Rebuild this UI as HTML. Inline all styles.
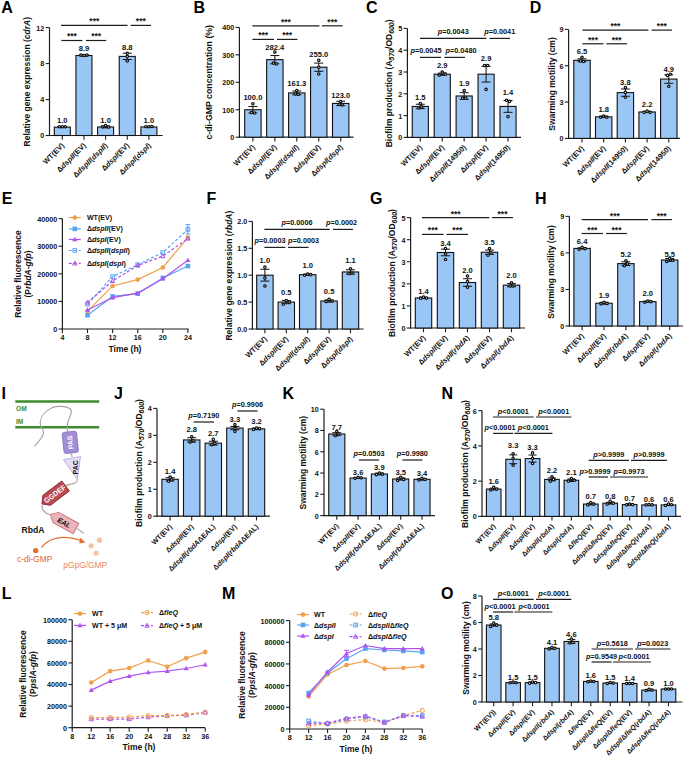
<!DOCTYPE html>
<html><head><meta charset="utf-8"><style>
html,body{margin:0;padding:0;background:#fff;}
svg{display:block;font-family:"Liberation Sans", sans-serif;}
</style></head><body>
<svg width="685" height="757" viewBox="0 0 685 757">
<rect width="685" height="757" fill="#fff"/>
<line x1="49.50" y1="27.62" x2="49.50" y2="136.10" stroke="#1e1e1e" stroke-width="1.20" />
<line x1="48.90" y1="135.50" x2="162.60" y2="135.50" stroke="#1e1e1e" stroke-width="1.20" />
<line x1="45.70" y1="135.50" x2="49.50" y2="135.50" stroke="#1e1e1e" stroke-width="1.10" />
<text x="44.30" y="138.40" font-size="7.20" text-anchor="end" font-weight="bold" fill="#111" >0</text>
<line x1="45.70" y1="99.54" x2="49.50" y2="99.54" stroke="#1e1e1e" stroke-width="1.10" />
<text x="44.30" y="102.44" font-size="7.20" text-anchor="end" font-weight="bold" fill="#111" >4</text>
<line x1="45.70" y1="63.58" x2="49.50" y2="63.58" stroke="#1e1e1e" stroke-width="1.10" />
<text x="44.30" y="66.48" font-size="7.20" text-anchor="end" font-weight="bold" fill="#111" >8</text>
<line x1="45.70" y1="27.62" x2="49.50" y2="27.62" stroke="#1e1e1e" stroke-width="1.10" />
<text x="44.30" y="30.52" font-size="7.20" text-anchor="end" font-weight="bold" fill="#111" >12</text>
<rect x="54.30" y="127.14" width="16.00" height="8.36" fill="#9ac6f6" stroke="#111" stroke-width="1.1"/>
<line x1="62.30" y1="135.50" x2="62.30" y2="139.70" stroke="#1e1e1e" stroke-width="1.10" />
<line x1="62.30" y1="126.69" x2="62.30" y2="127.59" stroke="#111" stroke-width="1.00" />
<line x1="57.80" y1="126.69" x2="66.80" y2="126.69" stroke="#111" stroke-width="1.00" />
<line x1="57.80" y1="127.59" x2="66.80" y2="127.59" stroke="#111" stroke-width="1.00" />
<circle cx="59.30" cy="126.78" r="1.2" fill="#fff" stroke="#111" stroke-width="1.25"/>
<circle cx="62.30" cy="126.78" r="1.2" fill="#fff" stroke="#111" stroke-width="1.25"/>
<circle cx="65.30" cy="126.78" r="1.2" fill="#fff" stroke="#111" stroke-width="1.25"/>
<text x="62.30" y="123.10" font-size="7.60" text-anchor="middle" font-weight="bold" fill="#111" >1.0</text>
<text transform="translate(64.80 146.00) rotate(-45)" x="0" y="0" font-size="7.50" text-anchor="end" font-weight="bold" fill="#111">WT(EV)</text>
<rect x="75.95" y="55.49" width="16.00" height="80.01" fill="#9ac6f6" stroke="#111" stroke-width="1.1"/>
<line x1="83.95" y1="135.50" x2="83.95" y2="139.70" stroke="#1e1e1e" stroke-width="1.10" />
<line x1="83.95" y1="54.77" x2="83.95" y2="56.21" stroke="#111" stroke-width="1.00" />
<line x1="79.45" y1="54.77" x2="88.45" y2="54.77" stroke="#111" stroke-width="1.00" />
<line x1="79.45" y1="56.21" x2="88.45" y2="56.21" stroke="#111" stroke-width="1.00" />
<circle cx="80.95" cy="55.04" r="1.2" fill="#fff" stroke="#111" stroke-width="1.25"/>
<circle cx="83.95" cy="55.49" r="1.2" fill="#fff" stroke="#111" stroke-width="1.25"/>
<circle cx="86.95" cy="55.04" r="1.2" fill="#fff" stroke="#111" stroke-width="1.25"/>
<text x="83.95" y="51.30" font-size="7.60" text-anchor="middle" font-weight="bold" fill="#111" >8.9</text>
<text transform="translate(86.45 146.00) rotate(-45)" x="0" y="0" font-size="7.50" text-anchor="end" font-weight="bold" fill="#111">Δ<tspan font-style="italic">dspII</tspan>(EV)</text>
<rect x="97.60" y="126.96" width="16.00" height="8.54" fill="#9ac6f6" stroke="#111" stroke-width="1.1"/>
<line x1="105.60" y1="135.50" x2="105.60" y2="139.70" stroke="#1e1e1e" stroke-width="1.10" />
<line x1="105.60" y1="126.06" x2="105.60" y2="127.86" stroke="#111" stroke-width="1.00" />
<line x1="101.10" y1="126.06" x2="110.10" y2="126.06" stroke="#111" stroke-width="1.00" />
<line x1="101.10" y1="127.86" x2="110.10" y2="127.86" stroke="#111" stroke-width="1.00" />
<circle cx="102.60" cy="126.78" r="1.2" fill="#fff" stroke="#111" stroke-width="1.25"/>
<circle cx="105.60" cy="125.61" r="1.2" fill="#fff" stroke="#111" stroke-width="1.25"/>
<circle cx="108.60" cy="126.96" r="1.2" fill="#fff" stroke="#111" stroke-width="1.25"/>
<text x="105.60" y="123.10" font-size="7.60" text-anchor="middle" font-weight="bold" fill="#111" >1.0</text>
<text transform="translate(108.10 146.00) rotate(-45)" x="0" y="0" font-size="7.50" text-anchor="end" font-weight="bold" fill="#111">Δ<tspan font-style="italic">dspII</tspan>(<tspan font-style="italic">dspII</tspan>)</text>
<rect x="119.25" y="56.39" width="16.00" height="79.11" fill="#9ac6f6" stroke="#111" stroke-width="1.1"/>
<line x1="127.25" y1="135.50" x2="127.25" y2="139.70" stroke="#1e1e1e" stroke-width="1.10" />
<line x1="127.25" y1="53.24" x2="127.25" y2="59.53" stroke="#111" stroke-width="1.00" />
<line x1="122.75" y1="53.24" x2="131.75" y2="53.24" stroke="#111" stroke-width="1.00" />
<line x1="122.75" y1="59.53" x2="131.75" y2="59.53" stroke="#111" stroke-width="1.00" />
<circle cx="127.25" cy="53.24" r="1.2" fill="#fff" stroke="#111" stroke-width="1.25"/>
<circle cx="127.25" cy="56.39" r="1.2" fill="#fff" stroke="#111" stroke-width="1.25"/>
<circle cx="127.25" cy="60.88" r="1.2" fill="#fff" stroke="#111" stroke-width="1.25"/>
<text x="127.25" y="50.30" font-size="7.60" text-anchor="middle" font-weight="bold" fill="#111" >8.8</text>
<text transform="translate(129.75 146.00) rotate(-45)" x="0" y="0" font-size="7.50" text-anchor="end" font-weight="bold" fill="#111">Δ<tspan font-style="italic">dspI</tspan>(EV)</text>
<rect x="140.90" y="126.96" width="16.00" height="8.54" fill="#9ac6f6" stroke="#111" stroke-width="1.1"/>
<line x1="148.90" y1="135.50" x2="148.90" y2="139.70" stroke="#1e1e1e" stroke-width="1.10" />
<line x1="148.90" y1="126.51" x2="148.90" y2="127.41" stroke="#111" stroke-width="1.00" />
<line x1="144.40" y1="126.51" x2="153.40" y2="126.51" stroke="#111" stroke-width="1.00" />
<line x1="144.40" y1="127.41" x2="153.40" y2="127.41" stroke="#111" stroke-width="1.00" />
<circle cx="145.90" cy="126.78" r="1.2" fill="#fff" stroke="#111" stroke-width="1.25"/>
<circle cx="148.90" cy="126.78" r="1.2" fill="#fff" stroke="#111" stroke-width="1.25"/>
<circle cx="151.90" cy="126.51" r="1.2" fill="#fff" stroke="#111" stroke-width="1.25"/>
<text x="148.90" y="123.10" font-size="7.60" text-anchor="middle" font-weight="bold" fill="#111" >1.0</text>
<text transform="translate(151.40 146.00) rotate(-45)" x="0" y="0" font-size="7.50" text-anchor="end" font-weight="bold" fill="#111">Δ<tspan font-style="italic">dspI</tspan>(<tspan font-style="italic">dspI</tspan>)</text>
<line x1="61.00" y1="25.40" x2="127.60" y2="25.40" stroke="#1e1e1e" stroke-width="1.20" />
<text x="94.30" y="23.80" font-size="8.50" text-anchor="middle" font-weight="bold" fill="#111" >***</text>
<line x1="130.60" y1="25.40" x2="151.00" y2="25.40" stroke="#1e1e1e" stroke-width="1.20" />
<text x="140.80" y="23.80" font-size="8.50" text-anchor="middle" font-weight="bold" fill="#111" >***</text>
<line x1="61.40" y1="40.50" x2="82.40" y2="40.50" stroke="#1e1e1e" stroke-width="1.20" />
<text x="71.90" y="38.90" font-size="8.50" text-anchor="middle" font-weight="bold" fill="#111" >***</text>
<line x1="86.00" y1="40.50" x2="106.20" y2="40.50" stroke="#1e1e1e" stroke-width="1.20" />
<text x="96.10" y="38.90" font-size="8.50" text-anchor="middle" font-weight="bold" fill="#111" >***</text>
<text transform="translate(27.20 81.70) rotate(-90)" x="0" y="0" font-size="8.50" text-anchor="middle" font-weight="bold" fill="#111" dominant-baseline="central">Relative gene expression (<tspan font-style="italic">cdrA</tspan>)</text>
<line x1="239.40" y1="27.40" x2="239.40" y2="137.80" stroke="#1e1e1e" stroke-width="1.20" />
<line x1="238.80" y1="137.20" x2="353.60" y2="137.20" stroke="#1e1e1e" stroke-width="1.20" />
<line x1="235.60" y1="137.20" x2="239.40" y2="137.20" stroke="#1e1e1e" stroke-width="1.10" />
<text x="234.20" y="140.10" font-size="7.20" text-anchor="end" font-weight="bold" fill="#111" >0</text>
<line x1="235.60" y1="109.75" x2="239.40" y2="109.75" stroke="#1e1e1e" stroke-width="1.10" />
<text x="234.20" y="112.65" font-size="7.20" text-anchor="end" font-weight="bold" fill="#111" >100</text>
<line x1="235.60" y1="82.30" x2="239.40" y2="82.30" stroke="#1e1e1e" stroke-width="1.10" />
<text x="234.20" y="85.20" font-size="7.20" text-anchor="end" font-weight="bold" fill="#111" >200</text>
<line x1="235.60" y1="54.85" x2="239.40" y2="54.85" stroke="#1e1e1e" stroke-width="1.10" />
<text x="234.20" y="57.75" font-size="7.20" text-anchor="end" font-weight="bold" fill="#111" >300</text>
<line x1="235.60" y1="27.40" x2="239.40" y2="27.40" stroke="#1e1e1e" stroke-width="1.10" />
<text x="234.20" y="30.30" font-size="7.20" text-anchor="end" font-weight="bold" fill="#111" >400</text>
<rect x="244.70" y="109.75" width="16.40" height="27.45" fill="#9ac6f6" stroke="#111" stroke-width="1.1"/>
<line x1="252.90" y1="137.20" x2="252.90" y2="141.40" stroke="#1e1e1e" stroke-width="1.10" />
<line x1="252.90" y1="106.46" x2="252.90" y2="113.04" stroke="#111" stroke-width="1.00" />
<line x1="248.40" y1="106.46" x2="257.40" y2="106.46" stroke="#111" stroke-width="1.00" />
<line x1="248.40" y1="113.04" x2="257.40" y2="113.04" stroke="#111" stroke-width="1.00" />
<circle cx="251.40" cy="112.49" r="1.2" fill="#fff" stroke="#111" stroke-width="1.25"/>
<circle cx="252.90" cy="103.71" r="1.2" fill="#fff" stroke="#111" stroke-width="1.25"/>
<circle cx="254.40" cy="113.04" r="1.2" fill="#fff" stroke="#111" stroke-width="1.25"/>
<text x="252.90" y="100.10" font-size="7.60" text-anchor="middle" font-weight="bold" fill="#111" >100.0</text>
<text transform="translate(255.40 147.70) rotate(-45)" x="0" y="0" font-size="7.50" text-anchor="end" font-weight="bold" fill="#111">WT(EV)</text>
<rect x="266.65" y="59.68" width="16.40" height="77.52" fill="#9ac6f6" stroke="#111" stroke-width="1.1"/>
<line x1="274.85" y1="137.20" x2="274.85" y2="141.40" stroke="#1e1e1e" stroke-width="1.10" />
<line x1="274.85" y1="55.56" x2="274.85" y2="63.80" stroke="#111" stroke-width="1.00" />
<line x1="270.35" y1="55.56" x2="279.35" y2="55.56" stroke="#111" stroke-width="1.00" />
<line x1="270.35" y1="63.80" x2="279.35" y2="63.80" stroke="#111" stroke-width="1.00" />
<circle cx="273.35" cy="63.08" r="1.2" fill="#fff" stroke="#111" stroke-width="1.25"/>
<circle cx="274.85" cy="52.10" r="1.2" fill="#fff" stroke="#111" stroke-width="1.25"/>
<circle cx="276.35" cy="63.91" r="1.2" fill="#fff" stroke="#111" stroke-width="1.25"/>
<text x="274.85" y="49.70" font-size="7.60" text-anchor="middle" font-weight="bold" fill="#111" >282.4</text>
<text transform="translate(277.35 147.70) rotate(-45)" x="0" y="0" font-size="7.50" text-anchor="end" font-weight="bold" fill="#111">Δ<tspan font-style="italic">dspII</tspan>(EV)</text>
<rect x="288.60" y="92.92" width="16.40" height="44.28" fill="#9ac6f6" stroke="#111" stroke-width="1.1"/>
<line x1="296.80" y1="137.20" x2="296.80" y2="141.40" stroke="#1e1e1e" stroke-width="1.10" />
<line x1="296.80" y1="91.00" x2="296.80" y2="94.84" stroke="#111" stroke-width="1.00" />
<line x1="292.30" y1="91.00" x2="301.30" y2="91.00" stroke="#111" stroke-width="1.00" />
<line x1="292.30" y1="94.84" x2="301.30" y2="94.84" stroke="#111" stroke-width="1.00" />
<circle cx="295.30" cy="93.83" r="1.2" fill="#fff" stroke="#111" stroke-width="1.25"/>
<circle cx="296.80" cy="90.53" r="1.2" fill="#fff" stroke="#111" stroke-width="1.25"/>
<circle cx="298.30" cy="94.38" r="1.2" fill="#fff" stroke="#111" stroke-width="1.25"/>
<text x="296.80" y="85.70" font-size="7.60" text-anchor="middle" font-weight="bold" fill="#111" >161.3</text>
<text transform="translate(299.30 147.70) rotate(-45)" x="0" y="0" font-size="7.50" text-anchor="end" font-weight="bold" fill="#111">Δ<tspan font-style="italic">dspII</tspan>(<tspan font-style="italic">dspII</tspan>)</text>
<rect x="310.55" y="67.20" width="16.40" height="70.00" fill="#9ac6f6" stroke="#111" stroke-width="1.1"/>
<line x1="318.75" y1="137.20" x2="318.75" y2="141.40" stroke="#1e1e1e" stroke-width="1.10" />
<line x1="318.75" y1="63.08" x2="318.75" y2="71.32" stroke="#111" stroke-width="1.00" />
<line x1="314.25" y1="63.08" x2="323.25" y2="63.08" stroke="#111" stroke-width="1.00" />
<line x1="314.25" y1="71.32" x2="323.25" y2="71.32" stroke="#111" stroke-width="1.00" />
<circle cx="318.75" cy="67.20" r="1.2" fill="#fff" stroke="#111" stroke-width="1.25"/>
<circle cx="318.75" cy="60.34" r="1.2" fill="#fff" stroke="#111" stroke-width="1.25"/>
<circle cx="318.75" cy="74.06" r="1.2" fill="#fff" stroke="#111" stroke-width="1.25"/>
<text x="318.75" y="56.70" font-size="7.60" text-anchor="middle" font-weight="bold" fill="#111" >255.0</text>
<text transform="translate(321.25 147.70) rotate(-45)" x="0" y="0" font-size="7.50" text-anchor="end" font-weight="bold" fill="#111">Δ<tspan font-style="italic">dspI</tspan>(EV)</text>
<rect x="332.50" y="103.44" width="16.40" height="33.76" fill="#9ac6f6" stroke="#111" stroke-width="1.1"/>
<line x1="340.70" y1="137.20" x2="340.70" y2="141.40" stroke="#1e1e1e" stroke-width="1.10" />
<line x1="340.70" y1="101.24" x2="340.70" y2="105.63" stroke="#111" stroke-width="1.00" />
<line x1="336.20" y1="101.24" x2="345.20" y2="101.24" stroke="#111" stroke-width="1.00" />
<line x1="336.20" y1="105.63" x2="345.20" y2="105.63" stroke="#111" stroke-width="1.00" />
<circle cx="339.20" cy="104.26" r="1.2" fill="#fff" stroke="#111" stroke-width="1.25"/>
<circle cx="340.70" cy="101.51" r="1.2" fill="#fff" stroke="#111" stroke-width="1.25"/>
<circle cx="342.20" cy="104.81" r="1.2" fill="#fff" stroke="#111" stroke-width="1.25"/>
<text x="340.70" y="97.70" font-size="7.60" text-anchor="middle" font-weight="bold" fill="#111" >123.0</text>
<text transform="translate(343.20 147.70) rotate(-45)" x="0" y="0" font-size="7.50" text-anchor="end" font-weight="bold" fill="#111">Δ<tspan font-style="italic">dspI</tspan>(<tspan font-style="italic">dspI</tspan>)</text>
<line x1="252.40" y1="25.80" x2="319.40" y2="25.80" stroke="#1e1e1e" stroke-width="1.20" />
<text x="285.90" y="24.80" font-size="8.50" text-anchor="middle" font-weight="bold" fill="#111" >***</text>
<line x1="322.00" y1="25.80" x2="342.60" y2="25.80" stroke="#1e1e1e" stroke-width="1.20" />
<text x="332.30" y="24.80" font-size="8.50" text-anchor="middle" font-weight="bold" fill="#111" >***</text>
<line x1="252.40" y1="39.40" x2="274.00" y2="39.40" stroke="#1e1e1e" stroke-width="1.20" />
<text x="263.20" y="38.40" font-size="8.50" text-anchor="middle" font-weight="bold" fill="#111" >***</text>
<line x1="277.00" y1="39.40" x2="297.40" y2="39.40" stroke="#1e1e1e" stroke-width="1.20" />
<text x="287.20" y="38.40" font-size="8.50" text-anchor="middle" font-weight="bold" fill="#111" >***</text>
<text transform="translate(209.40 82.30) rotate(-90)" x="0" y="0" font-size="8.50" text-anchor="middle" font-weight="bold" fill="#111" dominant-baseline="central"><tspan font-size="8.75">c-di-GMP concentration (%)</tspan></text>
<line x1="407.40" y1="28.40" x2="407.40" y2="138.00" stroke="#1e1e1e" stroke-width="1.20" />
<line x1="406.80" y1="137.40" x2="521.00" y2="137.40" stroke="#1e1e1e" stroke-width="1.20" />
<line x1="403.60" y1="137.40" x2="407.40" y2="137.40" stroke="#1e1e1e" stroke-width="1.10" />
<text x="402.20" y="140.30" font-size="7.20" text-anchor="end" font-weight="bold" fill="#111" >0</text>
<line x1="403.60" y1="115.60" x2="407.40" y2="115.60" stroke="#1e1e1e" stroke-width="1.10" />
<text x="402.20" y="118.50" font-size="7.20" text-anchor="end" font-weight="bold" fill="#111" >1</text>
<line x1="403.60" y1="93.80" x2="407.40" y2="93.80" stroke="#1e1e1e" stroke-width="1.10" />
<text x="402.20" y="96.70" font-size="7.20" text-anchor="end" font-weight="bold" fill="#111" >2</text>
<line x1="403.60" y1="72.00" x2="407.40" y2="72.00" stroke="#1e1e1e" stroke-width="1.10" />
<text x="402.20" y="74.90" font-size="7.20" text-anchor="end" font-weight="bold" fill="#111" >3</text>
<line x1="403.60" y1="50.20" x2="407.40" y2="50.20" stroke="#1e1e1e" stroke-width="1.10" />
<text x="402.20" y="53.10" font-size="7.20" text-anchor="end" font-weight="bold" fill="#111" >4</text>
<line x1="403.60" y1="28.40" x2="407.40" y2="28.40" stroke="#1e1e1e" stroke-width="1.10" />
<text x="402.20" y="31.30" font-size="7.20" text-anchor="end" font-weight="bold" fill="#111" >5</text>
<rect x="412.25" y="106.44" width="16.10" height="30.96" fill="#9ac6f6" stroke="#111" stroke-width="1.1"/>
<line x1="420.30" y1="137.40" x2="420.30" y2="141.60" stroke="#1e1e1e" stroke-width="1.10" />
<line x1="420.30" y1="104.26" x2="420.30" y2="108.62" stroke="#111" stroke-width="1.00" />
<line x1="415.80" y1="104.26" x2="424.80" y2="104.26" stroke="#111" stroke-width="1.00" />
<line x1="415.80" y1="108.62" x2="424.80" y2="108.62" stroke="#111" stroke-width="1.00" />
<circle cx="418.80" cy="107.97" r="1.2" fill="#fff" stroke="#111" stroke-width="1.25"/>
<circle cx="421.80" cy="106.88" r="1.2" fill="#fff" stroke="#111" stroke-width="1.25"/>
<circle cx="420.30" cy="103.61" r="1.2" fill="#fff" stroke="#111" stroke-width="1.25"/>
<text x="420.30" y="99.70" font-size="7.60" text-anchor="middle" font-weight="bold" fill="#111" >1.5</text>
<text transform="translate(422.80 147.90) rotate(-45)" x="0" y="0" font-size="7.50" text-anchor="end" font-weight="bold" fill="#111">WT(EV)</text>
<rect x="434.18" y="74.18" width="16.10" height="63.22" fill="#9ac6f6" stroke="#111" stroke-width="1.1"/>
<line x1="442.23" y1="137.40" x2="442.23" y2="141.60" stroke="#1e1e1e" stroke-width="1.10" />
<line x1="442.23" y1="73.09" x2="442.23" y2="75.27" stroke="#111" stroke-width="1.00" />
<line x1="437.73" y1="73.09" x2="446.73" y2="73.09" stroke="#111" stroke-width="1.00" />
<line x1="437.73" y1="75.27" x2="446.73" y2="75.27" stroke="#111" stroke-width="1.00" />
<circle cx="439.23" cy="75.27" r="1.2" fill="#fff" stroke="#111" stroke-width="1.25"/>
<circle cx="442.23" cy="72.00" r="1.2" fill="#fff" stroke="#111" stroke-width="1.25"/>
<circle cx="445.23" cy="74.18" r="1.2" fill="#fff" stroke="#111" stroke-width="1.25"/>
<text x="442.23" y="67.70" font-size="7.60" text-anchor="middle" font-weight="bold" fill="#111" >2.9</text>
<text transform="translate(444.73 147.90) rotate(-45)" x="0" y="0" font-size="7.50" text-anchor="end" font-weight="bold" fill="#111">Δ<tspan font-style="italic">dspII</tspan>(EV)</text>
<rect x="456.11" y="95.98" width="16.10" height="41.42" fill="#9ac6f6" stroke="#111" stroke-width="1.1"/>
<line x1="464.16" y1="137.40" x2="464.16" y2="141.60" stroke="#1e1e1e" stroke-width="1.10" />
<line x1="464.16" y1="92.71" x2="464.16" y2="99.25" stroke="#111" stroke-width="1.00" />
<line x1="459.66" y1="92.71" x2="468.66" y2="92.71" stroke="#111" stroke-width="1.00" />
<line x1="459.66" y1="99.25" x2="468.66" y2="99.25" stroke="#111" stroke-width="1.00" />
<circle cx="462.66" cy="98.16" r="1.2" fill="#fff" stroke="#111" stroke-width="1.25"/>
<circle cx="464.16" cy="90.53" r="1.2" fill="#fff" stroke="#111" stroke-width="1.25"/>
<circle cx="465.66" cy="98.16" r="1.2" fill="#fff" stroke="#111" stroke-width="1.25"/>
<text x="464.16" y="86.10" font-size="7.60" text-anchor="middle" font-weight="bold" fill="#111" >1.9</text>
<text transform="translate(466.66 147.90) rotate(-45)" x="0" y="0" font-size="7.50" text-anchor="end" font-weight="bold" fill="#111">Δ<tspan font-style="italic">dspII</tspan>(14950)</text>
<rect x="478.04" y="74.18" width="16.10" height="63.22" fill="#9ac6f6" stroke="#111" stroke-width="1.1"/>
<line x1="486.09" y1="137.40" x2="486.09" y2="141.60" stroke="#1e1e1e" stroke-width="1.10" />
<line x1="486.09" y1="66.33" x2="486.09" y2="82.03" stroke="#111" stroke-width="1.00" />
<line x1="481.59" y1="66.33" x2="490.59" y2="66.33" stroke="#111" stroke-width="1.00" />
<line x1="481.59" y1="82.03" x2="490.59" y2="82.03" stroke="#111" stroke-width="1.00" />
<circle cx="484.59" cy="65.46" r="1.2" fill="#fff" stroke="#111" stroke-width="1.25"/>
<circle cx="486.09" cy="89.44" r="1.2" fill="#fff" stroke="#111" stroke-width="1.25"/>
<circle cx="487.59" cy="65.46" r="1.2" fill="#fff" stroke="#111" stroke-width="1.25"/>
<text x="486.09" y="61.30" font-size="7.60" text-anchor="middle" font-weight="bold" fill="#111" >2.9</text>
<text transform="translate(488.59 147.90) rotate(-45)" x="0" y="0" font-size="7.50" text-anchor="end" font-weight="bold" fill="#111">Δ<tspan font-style="italic">dspI</tspan>(EV)</text>
<rect x="499.97" y="106.44" width="16.10" height="30.96" fill="#9ac6f6" stroke="#111" stroke-width="1.1"/>
<line x1="508.02" y1="137.40" x2="508.02" y2="141.60" stroke="#1e1e1e" stroke-width="1.10" />
<line x1="508.02" y1="100.56" x2="508.02" y2="112.33" stroke="#111" stroke-width="1.00" />
<line x1="503.52" y1="100.56" x2="512.52" y2="100.56" stroke="#111" stroke-width="1.00" />
<line x1="503.52" y1="112.33" x2="512.52" y2="112.33" stroke="#111" stroke-width="1.00" />
<circle cx="506.52" cy="100.34" r="1.2" fill="#fff" stroke="#111" stroke-width="1.25"/>
<circle cx="508.02" cy="116.69" r="1.2" fill="#fff" stroke="#111" stroke-width="1.25"/>
<circle cx="509.52" cy="101.43" r="1.2" fill="#fff" stroke="#111" stroke-width="1.25"/>
<text x="508.02" y="95.30" font-size="7.60" text-anchor="middle" font-weight="bold" fill="#111" >1.4</text>
<text transform="translate(510.52 147.90) rotate(-45)" x="0" y="0" font-size="7.50" text-anchor="end" font-weight="bold" fill="#111">Δ<tspan font-style="italic">dspI</tspan>(14950)</text>
<line x1="420.00" y1="38.40" x2="486.40" y2="38.40" stroke="#1e1e1e" stroke-width="1.20" />
<text x="453.20" y="34.40" font-size="7.30" text-anchor="middle" font-weight="bold" fill="#111" ><tspan font-style="italic">p</tspan>=0.0043</text>
<line x1="489.40" y1="38.40" x2="510.00" y2="38.40" stroke="#1e1e1e" stroke-width="1.20" />
<text x="499.70" y="34.40" font-size="7.30" text-anchor="middle" font-weight="bold" fill="#111" ><tspan font-style="italic">p</tspan>=0.0041</text>
<line x1="420.00" y1="57.40" x2="441.00" y2="57.40" stroke="#1e1e1e" stroke-width="1.20" />
<text x="426.00" y="53.40" font-size="7.30" text-anchor="middle" font-weight="bold" fill="#111" ><tspan font-style="italic">p</tspan>=0.0045</text>
<line x1="444.40" y1="57.40" x2="465.00" y2="57.40" stroke="#1e1e1e" stroke-width="1.20" />
<text x="461.00" y="53.40" font-size="7.30" text-anchor="middle" font-weight="bold" fill="#111" ><tspan font-style="italic">p</tspan>=0.0480</text>
<text transform="translate(388.60 83.40) rotate(-90)" x="0" y="0" font-size="8.50" text-anchor="middle" font-weight="bold" fill="#111" dominant-baseline="central">Biofilm production (A<tspan font-size="6.9" font-style="italic" dy="2">570</tspan><tspan dy="-2">/OD</tspan><tspan font-size="6.9" font-style="italic" dy="2">600</tspan><tspan dy="-2">)</tspan></text>
<line x1="568.60" y1="29.41" x2="568.60" y2="139.00" stroke="#1e1e1e" stroke-width="1.20" />
<line x1="568.00" y1="138.40" x2="680.00" y2="138.40" stroke="#1e1e1e" stroke-width="1.20" />
<line x1="564.80" y1="138.40" x2="568.60" y2="138.40" stroke="#1e1e1e" stroke-width="1.10" />
<text x="563.40" y="141.30" font-size="7.20" text-anchor="end" font-weight="bold" fill="#111" >0</text>
<line x1="564.80" y1="102.07" x2="568.60" y2="102.07" stroke="#1e1e1e" stroke-width="1.10" />
<text x="563.40" y="104.97" font-size="7.20" text-anchor="end" font-weight="bold" fill="#111" >3</text>
<line x1="564.80" y1="65.74" x2="568.60" y2="65.74" stroke="#1e1e1e" stroke-width="1.10" />
<text x="563.40" y="68.64" font-size="7.20" text-anchor="end" font-weight="bold" fill="#111" >6</text>
<line x1="564.80" y1="29.41" x2="568.60" y2="29.41" stroke="#1e1e1e" stroke-width="1.10" />
<text x="563.40" y="32.31" font-size="7.20" text-anchor="end" font-weight="bold" fill="#111" >9</text>
<rect x="573.80" y="60.29" width="16.40" height="78.11" fill="#9ac6f6" stroke="#111" stroke-width="1.1"/>
<line x1="582.00" y1="138.40" x2="582.00" y2="142.60" stroke="#1e1e1e" stroke-width="1.10" />
<line x1="582.00" y1="58.84" x2="582.00" y2="61.74" stroke="#111" stroke-width="1.00" />
<line x1="577.50" y1="58.84" x2="586.50" y2="58.84" stroke="#111" stroke-width="1.00" />
<line x1="577.50" y1="61.74" x2="586.50" y2="61.74" stroke="#111" stroke-width="1.00" />
<circle cx="580.50" cy="60.90" r="1.2" fill="#fff" stroke="#111" stroke-width="1.25"/>
<circle cx="582.00" cy="57.26" r="1.2" fill="#fff" stroke="#111" stroke-width="1.25"/>
<circle cx="583.50" cy="61.50" r="1.2" fill="#fff" stroke="#111" stroke-width="1.25"/>
<text x="582.00" y="53.70" font-size="7.60" text-anchor="middle" font-weight="bold" fill="#111" >6.5</text>
<text transform="translate(584.50 148.90) rotate(-45)" x="0" y="0" font-size="7.50" text-anchor="end" font-weight="bold" fill="#111">WT(EV)</text>
<rect x="595.50" y="116.84" width="16.40" height="21.56" fill="#9ac6f6" stroke="#111" stroke-width="1.1"/>
<line x1="603.70" y1="138.40" x2="603.70" y2="142.60" stroke="#1e1e1e" stroke-width="1.10" />
<line x1="603.70" y1="116.12" x2="603.70" y2="117.57" stroke="#111" stroke-width="1.00" />
<line x1="599.20" y1="116.12" x2="608.20" y2="116.12" stroke="#111" stroke-width="1.00" />
<line x1="599.20" y1="117.57" x2="608.20" y2="117.57" stroke="#111" stroke-width="1.00" />
<circle cx="600.70" cy="117.21" r="1.2" fill="#fff" stroke="#111" stroke-width="1.25"/>
<circle cx="603.70" cy="116.00" r="1.2" fill="#fff" stroke="#111" stroke-width="1.25"/>
<circle cx="606.70" cy="117.21" r="1.2" fill="#fff" stroke="#111" stroke-width="1.25"/>
<text x="603.70" y="112.10" font-size="7.60" text-anchor="middle" font-weight="bold" fill="#111" >1.8</text>
<text transform="translate(606.20 148.90) rotate(-45)" x="0" y="0" font-size="7.50" text-anchor="end" font-weight="bold" fill="#111">Δ<tspan font-style="italic">dspII</tspan>(EV)</text>
<rect x="617.20" y="92.62" width="16.40" height="45.78" fill="#9ac6f6" stroke="#111" stroke-width="1.1"/>
<line x1="625.40" y1="138.40" x2="625.40" y2="142.60" stroke="#1e1e1e" stroke-width="1.10" />
<line x1="625.40" y1="88.99" x2="625.40" y2="96.26" stroke="#111" stroke-width="1.00" />
<line x1="620.90" y1="88.99" x2="629.90" y2="88.99" stroke="#111" stroke-width="1.00" />
<line x1="620.90" y1="96.26" x2="629.90" y2="96.26" stroke="#111" stroke-width="1.00" />
<circle cx="625.40" cy="97.23" r="1.2" fill="#fff" stroke="#111" stroke-width="1.25"/>
<circle cx="625.40" cy="87.54" r="1.2" fill="#fff" stroke="#111" stroke-width="1.25"/>
<circle cx="625.40" cy="92.38" r="1.2" fill="#fff" stroke="#111" stroke-width="1.25"/>
<text x="625.40" y="85.10" font-size="7.60" text-anchor="middle" font-weight="bold" fill="#111" >3.8</text>
<text transform="translate(627.90 148.90) rotate(-45)" x="0" y="0" font-size="7.50" text-anchor="end" font-weight="bold" fill="#111">Δ<tspan font-style="italic">dspII</tspan>(14950)</text>
<rect x="638.90" y="112.00" width="16.40" height="26.40" fill="#9ac6f6" stroke="#111" stroke-width="1.1"/>
<line x1="647.10" y1="138.40" x2="647.10" y2="142.60" stroke="#1e1e1e" stroke-width="1.10" />
<line x1="647.10" y1="111.39" x2="647.10" y2="112.61" stroke="#111" stroke-width="1.00" />
<line x1="642.60" y1="111.39" x2="651.60" y2="111.39" stroke="#111" stroke-width="1.00" />
<line x1="642.60" y1="112.61" x2="651.60" y2="112.61" stroke="#111" stroke-width="1.00" />
<circle cx="644.10" cy="112.36" r="1.2" fill="#fff" stroke="#111" stroke-width="1.25"/>
<circle cx="647.10" cy="111.15" r="1.2" fill="#fff" stroke="#111" stroke-width="1.25"/>
<circle cx="650.10" cy="112.36" r="1.2" fill="#fff" stroke="#111" stroke-width="1.25"/>
<text x="647.10" y="107.10" font-size="7.60" text-anchor="middle" font-weight="bold" fill="#111" >2.2</text>
<text transform="translate(649.60 148.90) rotate(-45)" x="0" y="0" font-size="7.50" text-anchor="end" font-weight="bold" fill="#111">Δ<tspan font-style="italic">dspI</tspan>(EV)</text>
<rect x="660.60" y="79.06" width="16.40" height="59.34" fill="#9ac6f6" stroke="#111" stroke-width="1.1"/>
<line x1="668.80" y1="138.40" x2="668.80" y2="142.60" stroke="#1e1e1e" stroke-width="1.10" />
<line x1="668.80" y1="74.82" x2="668.80" y2="83.30" stroke="#111" stroke-width="1.00" />
<line x1="664.30" y1="74.82" x2="673.30" y2="74.82" stroke="#111" stroke-width="1.00" />
<line x1="664.30" y1="83.30" x2="673.30" y2="83.30" stroke="#111" stroke-width="1.00" />
<circle cx="668.80" cy="86.33" r="1.2" fill="#fff" stroke="#111" stroke-width="1.25"/>
<circle cx="667.30" cy="75.43" r="1.2" fill="#fff" stroke="#111" stroke-width="1.25"/>
<circle cx="670.30" cy="74.22" r="1.2" fill="#fff" stroke="#111" stroke-width="1.25"/>
<text x="668.80" y="71.70" font-size="7.60" text-anchor="middle" font-weight="bold" fill="#111" >4.9</text>
<text transform="translate(671.30 148.90) rotate(-45)" x="0" y="0" font-size="7.50" text-anchor="end" font-weight="bold" fill="#111">Δ<tspan font-style="italic">dspI</tspan>(14950)</text>
<line x1="582.40" y1="30.10" x2="648.40" y2="30.10" stroke="#1e1e1e" stroke-width="1.20" />
<text x="615.40" y="29.10" font-size="8.50" text-anchor="middle" font-weight="bold" fill="#111" >***</text>
<line x1="651.60" y1="30.10" x2="672.00" y2="30.10" stroke="#1e1e1e" stroke-width="1.20" />
<text x="661.80" y="29.10" font-size="8.50" text-anchor="middle" font-weight="bold" fill="#111" >***</text>
<line x1="582.40" y1="43.80" x2="603.60" y2="43.80" stroke="#1e1e1e" stroke-width="1.20" />
<text x="593.00" y="42.80" font-size="8.50" text-anchor="middle" font-weight="bold" fill="#111" >***</text>
<line x1="606.40" y1="43.80" x2="627.00" y2="43.80" stroke="#1e1e1e" stroke-width="1.20" />
<text x="616.70" y="42.80" font-size="8.50" text-anchor="middle" font-weight="bold" fill="#111" >***</text>
<text transform="translate(551.60 84.00) rotate(-90)" x="0" y="0" font-size="8.50" text-anchor="middle" font-weight="bold" fill="#111" dominant-baseline="central">Swarming motility (cm)</text>
<line x1="252.40" y1="221.40" x2="252.40" y2="329.60" stroke="#1e1e1e" stroke-width="1.20" />
<line x1="251.80" y1="329.00" x2="363.60" y2="329.00" stroke="#1e1e1e" stroke-width="1.20" />
<line x1="248.60" y1="329.00" x2="252.40" y2="329.00" stroke="#1e1e1e" stroke-width="1.10" />
<text x="247.20" y="331.90" font-size="7.20" text-anchor="end" font-weight="bold" fill="#111" >0.0</text>
<line x1="248.60" y1="302.10" x2="252.40" y2="302.10" stroke="#1e1e1e" stroke-width="1.10" />
<text x="247.20" y="305.00" font-size="7.20" text-anchor="end" font-weight="bold" fill="#111" >0.5</text>
<line x1="248.60" y1="275.20" x2="252.40" y2="275.20" stroke="#1e1e1e" stroke-width="1.10" />
<text x="247.20" y="278.10" font-size="7.20" text-anchor="end" font-weight="bold" fill="#111" >1.0</text>
<line x1="248.60" y1="248.30" x2="252.40" y2="248.30" stroke="#1e1e1e" stroke-width="1.10" />
<text x="247.20" y="251.20" font-size="7.20" text-anchor="end" font-weight="bold" fill="#111" >1.5</text>
<line x1="248.60" y1="221.40" x2="252.40" y2="221.40" stroke="#1e1e1e" stroke-width="1.10" />
<text x="247.20" y="224.30" font-size="7.20" text-anchor="end" font-weight="bold" fill="#111" >2.0</text>
<rect x="256.70" y="275.20" width="16.40" height="53.80" fill="#9ac6f6" stroke="#111" stroke-width="1.1"/>
<line x1="264.90" y1="329.00" x2="264.90" y2="333.20" stroke="#1e1e1e" stroke-width="1.10" />
<line x1="264.90" y1="269.28" x2="264.90" y2="281.12" stroke="#111" stroke-width="1.00" />
<line x1="260.40" y1="269.28" x2="269.40" y2="269.28" stroke="#111" stroke-width="1.00" />
<line x1="260.40" y1="281.12" x2="269.40" y2="281.12" stroke="#111" stroke-width="1.00" />
<circle cx="264.90" cy="285.96" r="1.2" fill="#fff" stroke="#111" stroke-width="1.25"/>
<circle cx="264.90" cy="267.13" r="1.2" fill="#fff" stroke="#111" stroke-width="1.25"/>
<circle cx="264.90" cy="277.89" r="1.2" fill="#fff" stroke="#111" stroke-width="1.25"/>
<text x="264.90" y="263.10" font-size="7.60" text-anchor="middle" font-weight="bold" fill="#111" >1.0</text>
<text transform="translate(267.40 339.50) rotate(-45)" x="0" y="0" font-size="7.50" text-anchor="end" font-weight="bold" fill="#111">WT(EV)</text>
<rect x="278.10" y="302.10" width="16.40" height="26.90" fill="#9ac6f6" stroke="#111" stroke-width="1.1"/>
<line x1="286.30" y1="329.00" x2="286.30" y2="333.20" stroke="#1e1e1e" stroke-width="1.10" />
<line x1="286.30" y1="300.49" x2="286.30" y2="303.71" stroke="#111" stroke-width="1.00" />
<line x1="281.80" y1="300.49" x2="290.80" y2="300.49" stroke="#111" stroke-width="1.00" />
<line x1="281.80" y1="303.71" x2="290.80" y2="303.71" stroke="#111" stroke-width="1.00" />
<circle cx="283.30" cy="304.25" r="1.2" fill="#fff" stroke="#111" stroke-width="1.25"/>
<circle cx="286.30" cy="300.49" r="1.2" fill="#fff" stroke="#111" stroke-width="1.25"/>
<circle cx="289.30" cy="302.10" r="1.2" fill="#fff" stroke="#111" stroke-width="1.25"/>
<text x="286.30" y="294.70" font-size="7.60" text-anchor="middle" font-weight="bold" fill="#111" >0.5</text>
<text transform="translate(288.80 339.50) rotate(-45)" x="0" y="0" font-size="7.50" text-anchor="end" font-weight="bold" fill="#111">Δ<tspan font-style="italic">dspII</tspan>(EV)</text>
<rect x="299.50" y="274.66" width="16.40" height="54.34" fill="#9ac6f6" stroke="#111" stroke-width="1.1"/>
<line x1="307.70" y1="329.00" x2="307.70" y2="333.20" stroke="#1e1e1e" stroke-width="1.10" />
<line x1="307.70" y1="274.12" x2="307.70" y2="275.20" stroke="#111" stroke-width="1.00" />
<line x1="303.20" y1="274.12" x2="312.20" y2="274.12" stroke="#111" stroke-width="1.00" />
<line x1="303.20" y1="275.20" x2="312.20" y2="275.20" stroke="#111" stroke-width="1.00" />
<circle cx="304.70" cy="275.20" r="1.2" fill="#fff" stroke="#111" stroke-width="1.25"/>
<circle cx="307.70" cy="274.12" r="1.2" fill="#fff" stroke="#111" stroke-width="1.25"/>
<circle cx="310.70" cy="274.66" r="1.2" fill="#fff" stroke="#111" stroke-width="1.25"/>
<text x="307.70" y="268.10" font-size="7.60" text-anchor="middle" font-weight="bold" fill="#111" >1.0</text>
<text transform="translate(310.20 339.50) rotate(-45)" x="0" y="0" font-size="7.50" text-anchor="end" font-weight="bold" fill="#111">Δ<tspan font-style="italic">dspII</tspan>(<tspan font-style="italic">dspII</tspan>)</text>
<rect x="320.90" y="301.02" width="16.40" height="27.98" fill="#9ac6f6" stroke="#111" stroke-width="1.1"/>
<line x1="329.10" y1="329.00" x2="329.10" y2="333.20" stroke="#1e1e1e" stroke-width="1.10" />
<line x1="329.10" y1="299.95" x2="329.10" y2="302.10" stroke="#111" stroke-width="1.00" />
<line x1="324.60" y1="299.95" x2="333.60" y2="299.95" stroke="#111" stroke-width="1.00" />
<line x1="324.60" y1="302.10" x2="333.60" y2="302.10" stroke="#111" stroke-width="1.00" />
<circle cx="326.10" cy="301.56" r="1.2" fill="#fff" stroke="#111" stroke-width="1.25"/>
<circle cx="329.10" cy="299.41" r="1.2" fill="#fff" stroke="#111" stroke-width="1.25"/>
<circle cx="332.10" cy="301.02" r="1.2" fill="#fff" stroke="#111" stroke-width="1.25"/>
<text x="329.10" y="294.30" font-size="7.60" text-anchor="middle" font-weight="bold" fill="#111" >0.5</text>
<text transform="translate(331.60 339.50) rotate(-45)" x="0" y="0" font-size="7.50" text-anchor="end" font-weight="bold" fill="#111">Δ<tspan font-style="italic">dspI</tspan>(EV)</text>
<rect x="342.30" y="271.97" width="16.40" height="57.03" fill="#9ac6f6" stroke="#111" stroke-width="1.1"/>
<line x1="350.50" y1="329.00" x2="350.50" y2="333.20" stroke="#1e1e1e" stroke-width="1.10" />
<line x1="350.50" y1="269.82" x2="350.50" y2="274.12" stroke="#111" stroke-width="1.00" />
<line x1="346.00" y1="269.82" x2="355.00" y2="269.82" stroke="#111" stroke-width="1.00" />
<line x1="346.00" y1="274.12" x2="355.00" y2="274.12" stroke="#111" stroke-width="1.00" />
<circle cx="349.00" cy="273.59" r="1.2" fill="#fff" stroke="#111" stroke-width="1.25"/>
<circle cx="350.50" cy="268.74" r="1.2" fill="#fff" stroke="#111" stroke-width="1.25"/>
<circle cx="352.00" cy="273.05" r="1.2" fill="#fff" stroke="#111" stroke-width="1.25"/>
<text x="350.50" y="263.10" font-size="7.60" text-anchor="middle" font-weight="bold" fill="#111" >1.1</text>
<text transform="translate(353.00 339.50) rotate(-45)" x="0" y="0" font-size="7.50" text-anchor="end" font-weight="bold" fill="#111">Δ<tspan font-style="italic">dspI</tspan>(<tspan font-style="italic">dspI</tspan>)</text>
<line x1="264.40" y1="229.40" x2="329.60" y2="229.40" stroke="#1e1e1e" stroke-width="1.20" />
<text x="297.00" y="225.40" font-size="7.30" text-anchor="middle" font-weight="bold" fill="#111" ><tspan font-style="italic">p</tspan>=0.0006</text>
<line x1="333.00" y1="229.40" x2="353.00" y2="229.40" stroke="#1e1e1e" stroke-width="1.20" />
<text x="341.60" y="225.40" font-size="7.30" text-anchor="middle" font-weight="bold" fill="#111" ><tspan font-style="italic">p</tspan>=0.0002</text>
<line x1="264.40" y1="247.40" x2="285.40" y2="247.40" stroke="#1e1e1e" stroke-width="1.20" />
<text x="270.00" y="243.40" font-size="7.30" text-anchor="middle" font-weight="bold" fill="#111" ><tspan font-style="italic">p</tspan>=0.0003</text>
<line x1="288.00" y1="247.40" x2="308.60" y2="247.40" stroke="#1e1e1e" stroke-width="1.20" />
<text x="303.60" y="243.40" font-size="7.30" text-anchor="middle" font-weight="bold" fill="#111" ><tspan font-style="italic">p</tspan>=0.0003</text>
<text transform="translate(228.60 275.60) rotate(-90)" x="0" y="0" font-size="8.50" text-anchor="middle" font-weight="bold" fill="#111" dominant-baseline="central">Relative gene expression (<tspan font-style="italic">rbdA</tspan>)</text>
<line x1="410.60" y1="217.60" x2="410.60" y2="328.60" stroke="#1e1e1e" stroke-width="1.20" />
<line x1="410.00" y1="328.00" x2="525.00" y2="328.00" stroke="#1e1e1e" stroke-width="1.20" />
<line x1="406.80" y1="328.00" x2="410.60" y2="328.00" stroke="#1e1e1e" stroke-width="1.10" />
<text x="405.40" y="330.90" font-size="7.20" text-anchor="end" font-weight="bold" fill="#111" >0</text>
<line x1="406.80" y1="305.92" x2="410.60" y2="305.92" stroke="#1e1e1e" stroke-width="1.10" />
<text x="405.40" y="308.82" font-size="7.20" text-anchor="end" font-weight="bold" fill="#111" >1</text>
<line x1="406.80" y1="283.84" x2="410.60" y2="283.84" stroke="#1e1e1e" stroke-width="1.10" />
<text x="405.40" y="286.74" font-size="7.20" text-anchor="end" font-weight="bold" fill="#111" >2</text>
<line x1="406.80" y1="261.76" x2="410.60" y2="261.76" stroke="#1e1e1e" stroke-width="1.10" />
<text x="405.40" y="264.66" font-size="7.20" text-anchor="end" font-weight="bold" fill="#111" >3</text>
<line x1="406.80" y1="239.68" x2="410.60" y2="239.68" stroke="#1e1e1e" stroke-width="1.10" />
<text x="405.40" y="242.58" font-size="7.20" text-anchor="end" font-weight="bold" fill="#111" >4</text>
<line x1="406.80" y1="217.60" x2="410.60" y2="217.60" stroke="#1e1e1e" stroke-width="1.10" />
<text x="405.40" y="220.50" font-size="7.20" text-anchor="end" font-weight="bold" fill="#111" >5</text>
<rect x="415.30" y="297.97" width="16.40" height="30.03" fill="#9ac6f6" stroke="#111" stroke-width="1.1"/>
<line x1="423.50" y1="328.00" x2="423.50" y2="332.20" stroke="#1e1e1e" stroke-width="1.10" />
<line x1="423.50" y1="297.31" x2="423.50" y2="298.63" stroke="#111" stroke-width="1.00" />
<line x1="419.00" y1="297.31" x2="428.00" y2="297.31" stroke="#111" stroke-width="1.00" />
<line x1="419.00" y1="298.63" x2="428.00" y2="298.63" stroke="#111" stroke-width="1.00" />
<circle cx="420.50" cy="298.19" r="1.2" fill="#fff" stroke="#111" stroke-width="1.25"/>
<circle cx="423.50" cy="297.09" r="1.2" fill="#fff" stroke="#111" stroke-width="1.25"/>
<circle cx="426.50" cy="298.19" r="1.2" fill="#fff" stroke="#111" stroke-width="1.25"/>
<text x="423.50" y="294.30" font-size="7.60" text-anchor="middle" font-weight="bold" fill="#111" >1.4</text>
<text transform="translate(426.00 338.50) rotate(-45)" x="0" y="0" font-size="7.50" text-anchor="end" font-weight="bold" fill="#111">WT(EV)</text>
<rect x="437.30" y="252.49" width="16.40" height="75.51" fill="#9ac6f6" stroke="#111" stroke-width="1.1"/>
<line x1="445.50" y1="328.00" x2="445.50" y2="332.20" stroke="#1e1e1e" stroke-width="1.10" />
<line x1="445.50" y1="249.17" x2="445.50" y2="255.80" stroke="#111" stroke-width="1.00" />
<line x1="441.00" y1="249.17" x2="450.00" y2="249.17" stroke="#111" stroke-width="1.00" />
<line x1="441.00" y1="255.80" x2="450.00" y2="255.80" stroke="#111" stroke-width="1.00" />
<circle cx="445.50" cy="259.55" r="1.2" fill="#fff" stroke="#111" stroke-width="1.25"/>
<circle cx="445.50" cy="248.51" r="1.2" fill="#fff" stroke="#111" stroke-width="1.25"/>
<circle cx="445.50" cy="254.03" r="1.2" fill="#fff" stroke="#111" stroke-width="1.25"/>
<text x="445.50" y="245.70" font-size="7.60" text-anchor="middle" font-weight="bold" fill="#111" >3.4</text>
<text transform="translate(448.00 338.50) rotate(-45)" x="0" y="0" font-size="7.50" text-anchor="end" font-weight="bold" fill="#111">Δ<tspan font-style="italic">dspII</tspan>(EV)</text>
<rect x="459.30" y="282.52" width="16.40" height="45.48" fill="#9ac6f6" stroke="#111" stroke-width="1.1"/>
<line x1="467.50" y1="328.00" x2="467.50" y2="332.20" stroke="#1e1e1e" stroke-width="1.10" />
<line x1="467.50" y1="278.76" x2="467.50" y2="286.27" stroke="#111" stroke-width="1.00" />
<line x1="463.00" y1="278.76" x2="472.00" y2="278.76" stroke="#111" stroke-width="1.00" />
<line x1="463.00" y1="286.27" x2="472.00" y2="286.27" stroke="#111" stroke-width="1.00" />
<circle cx="467.50" cy="287.15" r="1.2" fill="#fff" stroke="#111" stroke-width="1.25"/>
<circle cx="467.50" cy="276.11" r="1.2" fill="#fff" stroke="#111" stroke-width="1.25"/>
<circle cx="467.50" cy="281.63" r="1.2" fill="#fff" stroke="#111" stroke-width="1.25"/>
<text x="467.50" y="273.10" font-size="7.60" text-anchor="middle" font-weight="bold" fill="#111" >2.0</text>
<text transform="translate(470.00 338.50) rotate(-45)" x="0" y="0" font-size="7.50" text-anchor="end" font-weight="bold" fill="#111">Δ<tspan font-style="italic">dspII</tspan>(<tspan font-style="italic">rbdA</tspan>)</text>
<rect x="481.30" y="252.27" width="16.40" height="75.73" fill="#9ac6f6" stroke="#111" stroke-width="1.1"/>
<line x1="489.50" y1="328.00" x2="489.50" y2="332.20" stroke="#1e1e1e" stroke-width="1.10" />
<line x1="489.50" y1="250.06" x2="489.50" y2="254.47" stroke="#111" stroke-width="1.00" />
<line x1="485.00" y1="250.06" x2="494.00" y2="250.06" stroke="#111" stroke-width="1.00" />
<line x1="485.00" y1="254.47" x2="494.00" y2="254.47" stroke="#111" stroke-width="1.00" />
<circle cx="488.00" cy="255.14" r="1.2" fill="#fff" stroke="#111" stroke-width="1.25"/>
<circle cx="489.50" cy="248.51" r="1.2" fill="#fff" stroke="#111" stroke-width="1.25"/>
<circle cx="491.00" cy="252.93" r="1.2" fill="#fff" stroke="#111" stroke-width="1.25"/>
<text x="489.50" y="244.70" font-size="7.60" text-anchor="middle" font-weight="bold" fill="#111" >3.5</text>
<text transform="translate(492.00 338.50) rotate(-45)" x="0" y="0" font-size="7.50" text-anchor="end" font-weight="bold" fill="#111">Δ<tspan font-style="italic">dspI</tspan>(EV)</text>
<rect x="503.30" y="285.16" width="16.40" height="42.84" fill="#9ac6f6" stroke="#111" stroke-width="1.1"/>
<line x1="511.50" y1="328.00" x2="511.50" y2="332.20" stroke="#1e1e1e" stroke-width="1.10" />
<line x1="511.50" y1="283.62" x2="511.50" y2="286.71" stroke="#111" stroke-width="1.00" />
<line x1="507.00" y1="283.62" x2="516.00" y2="283.62" stroke="#111" stroke-width="1.00" />
<line x1="507.00" y1="286.71" x2="516.00" y2="286.71" stroke="#111" stroke-width="1.00" />
<circle cx="510.00" cy="286.05" r="1.2" fill="#fff" stroke="#111" stroke-width="1.25"/>
<circle cx="511.50" cy="282.74" r="1.2" fill="#fff" stroke="#111" stroke-width="1.25"/>
<circle cx="513.00" cy="286.05" r="1.2" fill="#fff" stroke="#111" stroke-width="1.25"/>
<text x="511.50" y="278.30" font-size="7.60" text-anchor="middle" font-weight="bold" fill="#111" >2.0</text>
<text transform="translate(514.00 338.50) rotate(-45)" x="0" y="0" font-size="7.50" text-anchor="end" font-weight="bold" fill="#111">Δ<tspan font-style="italic">dspI</tspan>(<tspan font-style="italic">rbdA</tspan>)</text>
<line x1="422.00" y1="217.60" x2="489.40" y2="217.60" stroke="#1e1e1e" stroke-width="1.20" />
<text x="455.70" y="216.60" font-size="8.50" text-anchor="middle" font-weight="bold" fill="#111" >***</text>
<line x1="492.00" y1="217.60" x2="513.00" y2="217.60" stroke="#1e1e1e" stroke-width="1.20" />
<text x="502.50" y="216.60" font-size="8.50" text-anchor="middle" font-weight="bold" fill="#111" >***</text>
<line x1="422.00" y1="234.40" x2="443.60" y2="234.40" stroke="#1e1e1e" stroke-width="1.20" />
<text x="432.80" y="233.40" font-size="8.50" text-anchor="middle" font-weight="bold" fill="#111" >***</text>
<line x1="446.60" y1="234.40" x2="468.00" y2="234.40" stroke="#1e1e1e" stroke-width="1.20" />
<text x="457.30" y="233.40" font-size="8.50" text-anchor="middle" font-weight="bold" fill="#111" >***</text>
<text transform="translate(392.00 273.00) rotate(-90)" x="0" y="0" font-size="8.50" text-anchor="middle" font-weight="bold" fill="#111" dominant-baseline="central">Biofilm production (A<tspan font-size="6.9" font-style="italic" dy="2">570</tspan><tspan dy="-2">/OD</tspan><tspan font-size="6.9" font-style="italic" dy="2">600</tspan><tspan dy="-2">)</tspan></text>
<line x1="569.40" y1="216.38" x2="569.40" y2="326.60" stroke="#1e1e1e" stroke-width="1.20" />
<line x1="568.80" y1="326.00" x2="683.00" y2="326.00" stroke="#1e1e1e" stroke-width="1.20" />
<line x1="565.60" y1="326.00" x2="569.40" y2="326.00" stroke="#1e1e1e" stroke-width="1.10" />
<text x="564.20" y="328.90" font-size="7.20" text-anchor="end" font-weight="bold" fill="#111" >0</text>
<line x1="565.60" y1="289.46" x2="569.40" y2="289.46" stroke="#1e1e1e" stroke-width="1.10" />
<text x="564.20" y="292.36" font-size="7.20" text-anchor="end" font-weight="bold" fill="#111" >3</text>
<line x1="565.60" y1="252.92" x2="569.40" y2="252.92" stroke="#1e1e1e" stroke-width="1.10" />
<text x="564.20" y="255.82" font-size="7.20" text-anchor="end" font-weight="bold" fill="#111" >6</text>
<line x1="565.60" y1="216.38" x2="569.40" y2="216.38" stroke="#1e1e1e" stroke-width="1.10" />
<text x="564.20" y="219.28" font-size="7.20" text-anchor="end" font-weight="bold" fill="#111" >9</text>
<rect x="573.90" y="248.41" width="16.40" height="77.59" fill="#9ac6f6" stroke="#111" stroke-width="1.1"/>
<line x1="582.10" y1="326.00" x2="582.10" y2="330.20" stroke="#1e1e1e" stroke-width="1.10" />
<line x1="582.10" y1="247.80" x2="582.10" y2="249.02" stroke="#111" stroke-width="1.00" />
<line x1="577.60" y1="247.80" x2="586.60" y2="247.80" stroke="#111" stroke-width="1.00" />
<line x1="577.60" y1="249.02" x2="586.60" y2="249.02" stroke="#111" stroke-width="1.00" />
<circle cx="579.10" cy="249.27" r="1.2" fill="#fff" stroke="#111" stroke-width="1.25"/>
<circle cx="582.10" cy="247.44" r="1.2" fill="#fff" stroke="#111" stroke-width="1.25"/>
<circle cx="585.10" cy="248.66" r="1.2" fill="#fff" stroke="#111" stroke-width="1.25"/>
<text x="582.10" y="243.70" font-size="7.60" text-anchor="middle" font-weight="bold" fill="#111" >6.4</text>
<text transform="translate(584.60 336.50) rotate(-45)" x="0" y="0" font-size="7.50" text-anchor="end" font-weight="bold" fill="#111">WT(EV)</text>
<rect x="595.80" y="303.22" width="16.40" height="22.78" fill="#9ac6f6" stroke="#111" stroke-width="1.1"/>
<line x1="604.00" y1="326.00" x2="604.00" y2="330.20" stroke="#1e1e1e" stroke-width="1.10" />
<line x1="604.00" y1="302.25" x2="604.00" y2="304.20" stroke="#111" stroke-width="1.00" />
<line x1="599.50" y1="302.25" x2="608.50" y2="302.25" stroke="#111" stroke-width="1.00" />
<line x1="599.50" y1="304.20" x2="608.50" y2="304.20" stroke="#111" stroke-width="1.00" />
<circle cx="601.00" cy="303.83" r="1.2" fill="#fff" stroke="#111" stroke-width="1.25"/>
<circle cx="604.00" cy="302.25" r="1.2" fill="#fff" stroke="#111" stroke-width="1.25"/>
<circle cx="607.00" cy="303.47" r="1.2" fill="#fff" stroke="#111" stroke-width="1.25"/>
<text x="604.00" y="298.10" font-size="7.60" text-anchor="middle" font-weight="bold" fill="#111" >1.9</text>
<text transform="translate(606.50 336.50) rotate(-45)" x="0" y="0" font-size="7.50" text-anchor="end" font-weight="bold" fill="#111">Δ<tspan font-style="italic">dspII</tspan>(EV)</text>
<rect x="617.70" y="263.64" width="16.40" height="62.36" fill="#9ac6f6" stroke="#111" stroke-width="1.1"/>
<line x1="625.90" y1="326.00" x2="625.90" y2="330.20" stroke="#1e1e1e" stroke-width="1.10" />
<line x1="625.90" y1="261.81" x2="625.90" y2="265.47" stroke="#111" stroke-width="1.00" />
<line x1="621.40" y1="261.81" x2="630.40" y2="261.81" stroke="#111" stroke-width="1.00" />
<line x1="621.40" y1="265.47" x2="630.40" y2="265.47" stroke="#111" stroke-width="1.00" />
<circle cx="624.40" cy="265.71" r="1.2" fill="#fff" stroke="#111" stroke-width="1.25"/>
<circle cx="625.90" cy="260.84" r="1.2" fill="#fff" stroke="#111" stroke-width="1.25"/>
<circle cx="627.40" cy="263.88" r="1.2" fill="#fff" stroke="#111" stroke-width="1.25"/>
<text x="625.90" y="256.70" font-size="7.60" text-anchor="middle" font-weight="bold" fill="#111" >5.2</text>
<text transform="translate(628.40 336.50) rotate(-45)" x="0" y="0" font-size="7.50" text-anchor="end" font-weight="bold" fill="#111">Δ<tspan font-style="italic">dspII</tspan>(<tspan font-style="italic">rbdA</tspan>)</text>
<rect x="639.60" y="301.64" width="16.40" height="24.36" fill="#9ac6f6" stroke="#111" stroke-width="1.1"/>
<line x1="647.80" y1="326.00" x2="647.80" y2="330.20" stroke="#1e1e1e" stroke-width="1.10" />
<line x1="647.80" y1="301.15" x2="647.80" y2="302.13" stroke="#111" stroke-width="1.00" />
<line x1="643.30" y1="301.15" x2="652.30" y2="301.15" stroke="#111" stroke-width="1.00" />
<line x1="643.30" y1="302.13" x2="652.30" y2="302.13" stroke="#111" stroke-width="1.00" />
<circle cx="644.80" cy="302.25" r="1.2" fill="#fff" stroke="#111" stroke-width="1.25"/>
<circle cx="647.80" cy="301.03" r="1.2" fill="#fff" stroke="#111" stroke-width="1.25"/>
<circle cx="650.80" cy="301.64" r="1.2" fill="#fff" stroke="#111" stroke-width="1.25"/>
<text x="647.80" y="296.30" font-size="7.60" text-anchor="middle" font-weight="bold" fill="#111" >2.0</text>
<text transform="translate(650.30 336.50) rotate(-45)" x="0" y="0" font-size="7.50" text-anchor="end" font-weight="bold" fill="#111">Δ<tspan font-style="italic">dspI</tspan>(EV)</text>
<rect x="661.50" y="259.98" width="16.40" height="66.02" fill="#9ac6f6" stroke="#111" stroke-width="1.1"/>
<line x1="669.70" y1="326.00" x2="669.70" y2="330.20" stroke="#1e1e1e" stroke-width="1.10" />
<line x1="669.70" y1="258.52" x2="669.70" y2="261.45" stroke="#111" stroke-width="1.00" />
<line x1="665.20" y1="258.52" x2="674.20" y2="258.52" stroke="#111" stroke-width="1.00" />
<line x1="665.20" y1="261.45" x2="674.20" y2="261.45" stroke="#111" stroke-width="1.00" />
<circle cx="666.70" cy="261.45" r="1.2" fill="#fff" stroke="#111" stroke-width="1.25"/>
<circle cx="669.70" cy="258.40" r="1.2" fill="#fff" stroke="#111" stroke-width="1.25"/>
<circle cx="672.70" cy="260.23" r="1.2" fill="#fff" stroke="#111" stroke-width="1.25"/>
<text x="669.70" y="257.40" font-size="7.60" text-anchor="middle" font-weight="bold" fill="#111" >5.5</text>
<text transform="translate(672.20 336.50) rotate(-45)" x="0" y="0" font-size="7.50" text-anchor="end" font-weight="bold" fill="#111">Δ<tspan font-style="italic">dspI</tspan>(<tspan font-style="italic">rbdA</tspan>)</text>
<line x1="581.60" y1="219.60" x2="648.00" y2="219.60" stroke="#1e1e1e" stroke-width="1.20" />
<text x="614.80" y="218.50" font-size="8.50" text-anchor="middle" font-weight="bold" fill="#111" >***</text>
<line x1="651.40" y1="219.60" x2="672.00" y2="219.60" stroke="#1e1e1e" stroke-width="1.20" />
<text x="661.70" y="218.50" font-size="8.50" text-anchor="middle" font-weight="bold" fill="#111" >***</text>
<line x1="581.60" y1="233.50" x2="603.00" y2="233.50" stroke="#1e1e1e" stroke-width="1.20" />
<text x="592.30" y="233.30" font-size="8.50" text-anchor="middle" font-weight="bold" fill="#111" >***</text>
<line x1="606.00" y1="233.50" x2="627.00" y2="233.50" stroke="#1e1e1e" stroke-width="1.20" />
<text x="616.50" y="233.30" font-size="8.50" text-anchor="middle" font-weight="bold" fill="#111" >***</text>
<text transform="translate(551.40 272.00) rotate(-90)" x="0" y="0" font-size="8.50" text-anchor="middle" font-weight="bold" fill="#111" dominant-baseline="central">Swarming motility (cm)</text>
<line x1="157.00" y1="408.40" x2="157.00" y2="516.80" stroke="#1e1e1e" stroke-width="1.20" />
<line x1="156.40" y1="516.20" x2="270.00" y2="516.20" stroke="#1e1e1e" stroke-width="1.20" />
<line x1="153.20" y1="516.20" x2="157.00" y2="516.20" stroke="#1e1e1e" stroke-width="1.10" />
<text x="151.80" y="519.10" font-size="7.20" text-anchor="end" font-weight="bold" fill="#111" >0</text>
<line x1="153.20" y1="489.25" x2="157.00" y2="489.25" stroke="#1e1e1e" stroke-width="1.10" />
<text x="151.80" y="492.15" font-size="7.20" text-anchor="end" font-weight="bold" fill="#111" >1</text>
<line x1="153.20" y1="462.30" x2="157.00" y2="462.30" stroke="#1e1e1e" stroke-width="1.10" />
<text x="151.80" y="465.20" font-size="7.20" text-anchor="end" font-weight="bold" fill="#111" >2</text>
<line x1="153.20" y1="435.35" x2="157.00" y2="435.35" stroke="#1e1e1e" stroke-width="1.10" />
<text x="151.80" y="438.25" font-size="7.20" text-anchor="end" font-weight="bold" fill="#111" >3</text>
<line x1="153.20" y1="408.40" x2="157.00" y2="408.40" stroke="#1e1e1e" stroke-width="1.10" />
<text x="151.80" y="411.30" font-size="7.20" text-anchor="end" font-weight="bold" fill="#111" >4</text>
<rect x="161.90" y="479.28" width="16.40" height="36.92" fill="#9ac6f6" stroke="#111" stroke-width="1.1"/>
<line x1="170.10" y1="516.20" x2="170.10" y2="520.40" stroke="#1e1e1e" stroke-width="1.10" />
<line x1="170.10" y1="477.66" x2="170.10" y2="480.90" stroke="#111" stroke-width="1.00" />
<line x1="165.60" y1="477.66" x2="174.60" y2="477.66" stroke="#111" stroke-width="1.00" />
<line x1="165.60" y1="480.90" x2="174.60" y2="480.90" stroke="#111" stroke-width="1.00" />
<circle cx="168.60" cy="481.17" r="1.2" fill="#fff" stroke="#111" stroke-width="1.25"/>
<circle cx="170.10" cy="477.12" r="1.2" fill="#fff" stroke="#111" stroke-width="1.25"/>
<circle cx="171.60" cy="479.82" r="1.2" fill="#fff" stroke="#111" stroke-width="1.25"/>
<text x="170.10" y="473.70" font-size="7.60" text-anchor="middle" font-weight="bold" fill="#111" >1.4</text>
<text transform="translate(172.60 527.20) rotate(-45)" x="0" y="0" font-size="7.20" text-anchor="end" font-weight="bold" fill="#111">WT(EV)</text>
<rect x="183.50" y="439.93" width="16.40" height="76.27" fill="#9ac6f6" stroke="#111" stroke-width="1.1"/>
<line x1="191.70" y1="516.20" x2="191.70" y2="520.40" stroke="#1e1e1e" stroke-width="1.10" />
<line x1="191.70" y1="437.78" x2="191.70" y2="442.09" stroke="#111" stroke-width="1.00" />
<line x1="187.20" y1="437.78" x2="196.20" y2="437.78" stroke="#111" stroke-width="1.00" />
<line x1="187.20" y1="442.09" x2="196.20" y2="442.09" stroke="#111" stroke-width="1.00" />
<circle cx="190.20" cy="442.09" r="1.2" fill="#fff" stroke="#111" stroke-width="1.25"/>
<circle cx="191.70" cy="436.70" r="1.2" fill="#fff" stroke="#111" stroke-width="1.25"/>
<circle cx="193.20" cy="440.74" r="1.2" fill="#fff" stroke="#111" stroke-width="1.25"/>
<text x="191.70" y="432.30" font-size="7.60" text-anchor="middle" font-weight="bold" fill="#111" >2.8</text>
<text transform="translate(194.20 527.20) rotate(-45)" x="0" y="0" font-size="7.20" text-anchor="end" font-weight="bold" fill="#111">Δ<tspan font-style="italic">dspII</tspan>(EV)</text>
<rect x="205.10" y="443.17" width="16.40" height="73.03" fill="#9ac6f6" stroke="#111" stroke-width="1.1"/>
<line x1="213.30" y1="516.20" x2="213.30" y2="520.40" stroke="#1e1e1e" stroke-width="1.10" />
<line x1="213.30" y1="441.28" x2="213.30" y2="445.05" stroke="#111" stroke-width="1.00" />
<line x1="208.80" y1="441.28" x2="217.80" y2="441.28" stroke="#111" stroke-width="1.00" />
<line x1="208.80" y1="445.05" x2="217.80" y2="445.05" stroke="#111" stroke-width="1.00" />
<circle cx="211.80" cy="444.78" r="1.2" fill="#fff" stroke="#111" stroke-width="1.25"/>
<circle cx="213.30" cy="439.39" r="1.2" fill="#fff" stroke="#111" stroke-width="1.25"/>
<circle cx="214.80" cy="443.44" r="1.2" fill="#fff" stroke="#111" stroke-width="1.25"/>
<text x="213.30" y="436.30" font-size="7.60" text-anchor="middle" font-weight="bold" fill="#111" >2.7</text>
<text transform="translate(215.80 527.20) rotate(-45)" x="0" y="0" font-size="7.20" text-anchor="end" font-weight="bold" fill="#111">Δ<tspan font-style="italic">dspII</tspan>(<tspan font-style="italic">rbdA</tspan>ΔEAL)</text>
<rect x="226.70" y="428.07" width="16.40" height="88.13" fill="#9ac6f6" stroke="#111" stroke-width="1.1"/>
<line x1="234.90" y1="516.20" x2="234.90" y2="520.40" stroke="#1e1e1e" stroke-width="1.10" />
<line x1="234.90" y1="426.46" x2="234.90" y2="429.69" stroke="#111" stroke-width="1.00" />
<line x1="230.40" y1="426.46" x2="239.40" y2="426.46" stroke="#111" stroke-width="1.00" />
<line x1="230.40" y1="429.69" x2="239.40" y2="429.69" stroke="#111" stroke-width="1.00" />
<circle cx="234.90" cy="431.31" r="1.2" fill="#fff" stroke="#111" stroke-width="1.25"/>
<circle cx="234.90" cy="424.57" r="1.2" fill="#fff" stroke="#111" stroke-width="1.25"/>
<circle cx="234.90" cy="428.61" r="1.2" fill="#fff" stroke="#111" stroke-width="1.25"/>
<text x="234.90" y="422.30" font-size="7.60" text-anchor="middle" font-weight="bold" fill="#111" >3.3</text>
<text transform="translate(237.40 527.20) rotate(-45)" x="0" y="0" font-size="7.20" text-anchor="end" font-weight="bold" fill="#111">Δ<tspan font-style="italic">dspI</tspan>(EV)</text>
<rect x="248.30" y="428.88" width="16.40" height="87.32" fill="#9ac6f6" stroke="#111" stroke-width="1.1"/>
<line x1="256.50" y1="516.20" x2="256.50" y2="520.40" stroke="#1e1e1e" stroke-width="1.10" />
<line x1="256.50" y1="428.07" x2="256.50" y2="429.69" stroke="#111" stroke-width="1.00" />
<line x1="252.00" y1="428.07" x2="261.00" y2="428.07" stroke="#111" stroke-width="1.00" />
<line x1="252.00" y1="429.69" x2="261.00" y2="429.69" stroke="#111" stroke-width="1.00" />
<circle cx="253.50" cy="429.42" r="1.2" fill="#fff" stroke="#111" stroke-width="1.25"/>
<circle cx="256.50" cy="428.07" r="1.2" fill="#fff" stroke="#111" stroke-width="1.25"/>
<circle cx="259.50" cy="428.61" r="1.2" fill="#fff" stroke="#111" stroke-width="1.25"/>
<text x="256.50" y="424.30" font-size="7.60" text-anchor="middle" font-weight="bold" fill="#111" >3.2</text>
<text transform="translate(259.00 527.20) rotate(-45)" x="0" y="0" font-size="7.20" text-anchor="end" font-weight="bold" fill="#111">Δ<tspan font-style="italic">dspI</tspan>(<tspan font-style="italic">rbdA</tspan>ΔEAL)</text>
<line x1="193.60" y1="422.00" x2="214.00" y2="422.00" stroke="#1e1e1e" stroke-width="1.20" />
<text x="203.80" y="418.00" font-size="7.30" text-anchor="middle" font-weight="bold" fill="#111" ><tspan font-style="italic">p</tspan>=0.7190</text>
<line x1="237.40" y1="411.00" x2="257.60" y2="411.00" stroke="#1e1e1e" stroke-width="1.20" />
<text x="247.50" y="407.00" font-size="7.30" text-anchor="middle" font-weight="bold" fill="#111" ><tspan font-style="italic">p</tspan>=0.9906</text>
<text transform="translate(139.00 463.00) rotate(-90)" x="0" y="0" font-size="8.50" text-anchor="middle" font-weight="bold" fill="#111" dominant-baseline="central">Biofilm production (A<tspan font-size="6.9" font-style="italic" dy="2">570</tspan><tspan dy="-2">/OD</tspan><tspan font-size="6.9" font-style="italic" dy="2">600</tspan><tspan dy="-2">)</tspan></text>
<line x1="324.00" y1="409.20" x2="324.00" y2="516.20" stroke="#1e1e1e" stroke-width="1.20" />
<line x1="323.40" y1="515.60" x2="435.00" y2="515.60" stroke="#1e1e1e" stroke-width="1.20" />
<line x1="320.20" y1="515.60" x2="324.00" y2="515.60" stroke="#1e1e1e" stroke-width="1.10" />
<text x="318.80" y="518.50" font-size="7.20" text-anchor="end" font-weight="bold" fill="#111" >0</text>
<line x1="320.20" y1="494.32" x2="324.00" y2="494.32" stroke="#1e1e1e" stroke-width="1.10" />
<text x="318.80" y="497.22" font-size="7.20" text-anchor="end" font-weight="bold" fill="#111" >2</text>
<line x1="320.20" y1="473.04" x2="324.00" y2="473.04" stroke="#1e1e1e" stroke-width="1.10" />
<text x="318.80" y="475.94" font-size="7.20" text-anchor="end" font-weight="bold" fill="#111" >4</text>
<line x1="320.20" y1="451.76" x2="324.00" y2="451.76" stroke="#1e1e1e" stroke-width="1.10" />
<text x="318.80" y="454.66" font-size="7.20" text-anchor="end" font-weight="bold" fill="#111" >6</text>
<line x1="320.20" y1="430.48" x2="324.00" y2="430.48" stroke="#1e1e1e" stroke-width="1.10" />
<text x="318.80" y="433.38" font-size="7.20" text-anchor="end" font-weight="bold" fill="#111" >8</text>
<line x1="320.20" y1="409.20" x2="324.00" y2="409.20" stroke="#1e1e1e" stroke-width="1.10" />
<text x="318.80" y="412.10" font-size="7.20" text-anchor="end" font-weight="bold" fill="#111" >10</text>
<rect x="328.75" y="433.99" width="16.10" height="81.61" fill="#9ac6f6" stroke="#111" stroke-width="1.1"/>
<line x1="336.80" y1="515.60" x2="336.80" y2="519.80" stroke="#1e1e1e" stroke-width="1.10" />
<line x1="336.80" y1="432.71" x2="336.80" y2="435.27" stroke="#111" stroke-width="1.00" />
<line x1="332.30" y1="432.71" x2="341.30" y2="432.71" stroke="#111" stroke-width="1.00" />
<line x1="332.30" y1="435.27" x2="341.30" y2="435.27" stroke="#111" stroke-width="1.00" />
<circle cx="335.30" cy="435.80" r="1.2" fill="#fff" stroke="#111" stroke-width="1.25"/>
<circle cx="336.80" cy="431.54" r="1.2" fill="#fff" stroke="#111" stroke-width="1.25"/>
<circle cx="338.30" cy="434.74" r="1.2" fill="#fff" stroke="#111" stroke-width="1.25"/>
<text x="336.80" y="430.30" font-size="7.60" text-anchor="middle" font-weight="bold" fill="#111" >7.7</text>
<text transform="translate(339.30 526.60) rotate(-45)" x="0" y="0" font-size="7.20" text-anchor="end" font-weight="bold" fill="#111">WT(EV)</text>
<rect x="350.05" y="478.04" width="16.10" height="37.56" fill="#9ac6f6" stroke="#111" stroke-width="1.1"/>
<line x1="358.10" y1="515.60" x2="358.10" y2="519.80" stroke="#1e1e1e" stroke-width="1.10" />
<line x1="358.10" y1="477.62" x2="358.10" y2="478.47" stroke="#111" stroke-width="1.00" />
<line x1="353.60" y1="477.62" x2="362.60" y2="477.62" stroke="#111" stroke-width="1.00" />
<line x1="353.60" y1="478.47" x2="362.60" y2="478.47" stroke="#111" stroke-width="1.00" />
<circle cx="355.10" cy="478.36" r="1.2" fill="#fff" stroke="#111" stroke-width="1.25"/>
<circle cx="358.10" cy="477.30" r="1.2" fill="#fff" stroke="#111" stroke-width="1.25"/>
<circle cx="361.10" cy="477.83" r="1.2" fill="#fff" stroke="#111" stroke-width="1.25"/>
<text x="358.10" y="474.70" font-size="7.60" text-anchor="middle" font-weight="bold" fill="#111" >3.6</text>
<text transform="translate(360.60 526.60) rotate(-45)" x="0" y="0" font-size="7.20" text-anchor="end" font-weight="bold" fill="#111">Δ<tspan font-style="italic">dspII</tspan>(EV)</text>
<rect x="371.35" y="474.00" width="16.10" height="41.60" fill="#9ac6f6" stroke="#111" stroke-width="1.1"/>
<line x1="379.40" y1="515.60" x2="379.40" y2="519.80" stroke="#1e1e1e" stroke-width="1.10" />
<line x1="379.40" y1="473.15" x2="379.40" y2="474.85" stroke="#111" stroke-width="1.00" />
<line x1="374.90" y1="473.15" x2="383.90" y2="473.15" stroke="#111" stroke-width="1.00" />
<line x1="374.90" y1="474.85" x2="383.90" y2="474.85" stroke="#111" stroke-width="1.00" />
<circle cx="376.40" cy="474.64" r="1.2" fill="#fff" stroke="#111" stroke-width="1.25"/>
<circle cx="379.40" cy="473.04" r="1.2" fill="#fff" stroke="#111" stroke-width="1.25"/>
<circle cx="382.40" cy="474.10" r="1.2" fill="#fff" stroke="#111" stroke-width="1.25"/>
<text x="379.40" y="470.30" font-size="7.60" text-anchor="middle" font-weight="bold" fill="#111" >3.9</text>
<text transform="translate(381.90 526.60) rotate(-45)" x="0" y="0" font-size="7.20" text-anchor="end" font-weight="bold" fill="#111">Δ<tspan font-style="italic">dspII</tspan>(<tspan font-style="italic">rbdA</tspan>ΔEAL)</text>
<rect x="392.65" y="479.00" width="16.10" height="36.60" fill="#9ac6f6" stroke="#111" stroke-width="1.1"/>
<line x1="400.70" y1="515.60" x2="400.70" y2="519.80" stroke="#1e1e1e" stroke-width="1.10" />
<line x1="400.70" y1="477.93" x2="400.70" y2="480.06" stroke="#111" stroke-width="1.00" />
<line x1="396.20" y1="477.93" x2="405.20" y2="477.93" stroke="#111" stroke-width="1.00" />
<line x1="396.20" y1="480.06" x2="405.20" y2="480.06" stroke="#111" stroke-width="1.00" />
<circle cx="397.70" cy="480.49" r="1.2" fill="#fff" stroke="#111" stroke-width="1.25"/>
<circle cx="400.70" cy="477.30" r="1.2" fill="#fff" stroke="#111" stroke-width="1.25"/>
<circle cx="403.70" cy="479.42" r="1.2" fill="#fff" stroke="#111" stroke-width="1.25"/>
<text x="400.70" y="475.10" font-size="7.60" text-anchor="middle" font-weight="bold" fill="#111" >3.5</text>
<text transform="translate(403.20 526.60) rotate(-45)" x="0" y="0" font-size="7.20" text-anchor="end" font-weight="bold" fill="#111">Δ<tspan font-style="italic">dspI</tspan>(EV)</text>
<rect x="413.95" y="479.32" width="16.10" height="36.28" fill="#9ac6f6" stroke="#111" stroke-width="1.1"/>
<line x1="422.00" y1="515.60" x2="422.00" y2="519.80" stroke="#1e1e1e" stroke-width="1.10" />
<line x1="422.00" y1="478.47" x2="422.00" y2="480.17" stroke="#111" stroke-width="1.00" />
<line x1="417.50" y1="478.47" x2="426.50" y2="478.47" stroke="#111" stroke-width="1.00" />
<line x1="417.50" y1="480.17" x2="426.50" y2="480.17" stroke="#111" stroke-width="1.00" />
<circle cx="419.00" cy="479.96" r="1.2" fill="#fff" stroke="#111" stroke-width="1.25"/>
<circle cx="422.00" cy="478.36" r="1.2" fill="#fff" stroke="#111" stroke-width="1.25"/>
<circle cx="425.00" cy="479.42" r="1.2" fill="#fff" stroke="#111" stroke-width="1.25"/>
<text x="422.00" y="475.70" font-size="7.60" text-anchor="middle" font-weight="bold" fill="#111" >3.4</text>
<text transform="translate(424.50 526.60) rotate(-45)" x="0" y="0" font-size="7.20" text-anchor="end" font-weight="bold" fill="#111">Δ<tspan font-style="italic">dspI</tspan>(<tspan font-style="italic">rbdA</tspan>ΔEAL)</text>
<line x1="359.00" y1="460.00" x2="379.00" y2="460.00" stroke="#1e1e1e" stroke-width="1.20" />
<text x="369.00" y="456.00" font-size="7.30" text-anchor="middle" font-weight="bold" fill="#111" ><tspan font-style="italic">p</tspan>=0.0503</text>
<line x1="402.40" y1="460.00" x2="422.40" y2="460.00" stroke="#1e1e1e" stroke-width="1.20" />
<text x="412.40" y="456.00" font-size="7.30" text-anchor="middle" font-weight="bold" fill="#111" ><tspan font-style="italic">p</tspan>=0.9980</text>
<text transform="translate(303.00 462.70) rotate(-90)" x="0" y="0" font-size="8.50" text-anchor="middle" font-weight="bold" fill="#111" dominant-baseline="central">Swarming motility (cm)</text>
<line x1="482.00" y1="410.62" x2="482.00" y2="517.00" stroke="#1e1e1e" stroke-width="1.20" />
<line x1="481.40" y1="516.40" x2="681.00" y2="516.40" stroke="#1e1e1e" stroke-width="1.20" />
<line x1="478.20" y1="516.40" x2="482.00" y2="516.40" stroke="#1e1e1e" stroke-width="1.10" />
<text x="476.80" y="519.30" font-size="7.20" text-anchor="end" font-weight="bold" fill="#111" >0</text>
<line x1="478.20" y1="481.14" x2="482.00" y2="481.14" stroke="#1e1e1e" stroke-width="1.10" />
<text x="476.80" y="484.04" font-size="7.20" text-anchor="end" font-weight="bold" fill="#111" >2</text>
<line x1="478.20" y1="445.88" x2="482.00" y2="445.88" stroke="#1e1e1e" stroke-width="1.10" />
<text x="476.80" y="448.78" font-size="7.20" text-anchor="end" font-weight="bold" fill="#111" >4</text>
<line x1="478.20" y1="410.62" x2="482.00" y2="410.62" stroke="#1e1e1e" stroke-width="1.10" />
<text x="476.80" y="413.52" font-size="7.20" text-anchor="end" font-weight="bold" fill="#111" >6</text>
<rect x="486.40" y="489.07" width="14.60" height="27.33" fill="#9ac6f6" stroke="#111" stroke-width="1.1"/>
<line x1="493.70" y1="516.40" x2="493.70" y2="520.60" stroke="#1e1e1e" stroke-width="1.10" />
<line x1="493.70" y1="488.19" x2="493.70" y2="489.95" stroke="#111" stroke-width="1.00" />
<line x1="489.70" y1="488.19" x2="497.70" y2="488.19" stroke="#111" stroke-width="1.00" />
<line x1="489.70" y1="489.95" x2="497.70" y2="489.95" stroke="#111" stroke-width="1.00" />
<circle cx="490.70" cy="489.95" r="1.2" fill="#fff" stroke="#111" stroke-width="1.25"/>
<circle cx="493.70" cy="487.31" r="1.2" fill="#fff" stroke="#111" stroke-width="1.25"/>
<circle cx="496.70" cy="489.07" r="1.2" fill="#fff" stroke="#111" stroke-width="1.25"/>
<text x="493.70" y="483.70" font-size="7.60" text-anchor="middle" font-weight="bold" fill="#111" >1.6</text>
<text transform="translate(496.20 526.90) rotate(-45)" x="0" y="0" font-size="7.00" text-anchor="end" font-weight="bold" fill="#111">WT(EV)</text>
<rect x="505.82" y="459.28" width="14.60" height="57.12" fill="#9ac6f6" stroke="#111" stroke-width="1.1"/>
<line x1="513.12" y1="516.40" x2="513.12" y2="520.60" stroke="#1e1e1e" stroke-width="1.10" />
<line x1="513.12" y1="454.87" x2="513.12" y2="463.69" stroke="#111" stroke-width="1.00" />
<line x1="509.12" y1="454.87" x2="517.12" y2="454.87" stroke="#111" stroke-width="1.00" />
<line x1="509.12" y1="463.69" x2="517.12" y2="463.69" stroke="#111" stroke-width="1.00" />
<circle cx="513.12" cy="465.27" r="1.2" fill="#fff" stroke="#111" stroke-width="1.25"/>
<circle cx="513.12" cy="453.81" r="1.2" fill="#fff" stroke="#111" stroke-width="1.25"/>
<circle cx="513.12" cy="458.22" r="1.2" fill="#fff" stroke="#111" stroke-width="1.25"/>
<text x="513.12" y="448.30" font-size="7.60" text-anchor="middle" font-weight="bold" fill="#111" >3.3</text>
<text transform="translate(515.62 526.90) rotate(-45)" x="0" y="0" font-size="7.00" text-anchor="end" font-weight="bold" fill="#111">Δ<tspan font-style="italic">dspII</tspan>(EV)</text>
<rect x="525.24" y="458.57" width="14.60" height="57.83" fill="#9ac6f6" stroke="#111" stroke-width="1.1"/>
<line x1="532.54" y1="516.40" x2="532.54" y2="520.60" stroke="#1e1e1e" stroke-width="1.10" />
<line x1="532.54" y1="455.05" x2="532.54" y2="462.10" stroke="#111" stroke-width="1.00" />
<line x1="528.54" y1="455.05" x2="536.54" y2="455.05" stroke="#111" stroke-width="1.00" />
<line x1="528.54" y1="462.10" x2="536.54" y2="462.10" stroke="#111" stroke-width="1.00" />
<circle cx="532.54" cy="463.51" r="1.2" fill="#fff" stroke="#111" stroke-width="1.25"/>
<circle cx="532.54" cy="452.93" r="1.2" fill="#fff" stroke="#111" stroke-width="1.25"/>
<circle cx="532.54" cy="458.22" r="1.2" fill="#fff" stroke="#111" stroke-width="1.25"/>
<text x="532.54" y="450.30" font-size="7.60" text-anchor="middle" font-weight="bold" fill="#111" >3.3</text>
<text transform="translate(535.04 526.90) rotate(-45)" x="0" y="0" font-size="7.00" text-anchor="end" font-weight="bold" fill="#111">Δ<tspan font-style="italic">dspI</tspan>(EV)</text>
<rect x="544.66" y="479.38" width="14.60" height="37.02" fill="#9ac6f6" stroke="#111" stroke-width="1.1"/>
<line x1="551.96" y1="516.40" x2="551.96" y2="520.60" stroke="#1e1e1e" stroke-width="1.10" />
<line x1="551.96" y1="477.97" x2="551.96" y2="480.79" stroke="#111" stroke-width="1.00" />
<line x1="547.96" y1="477.97" x2="555.96" y2="477.97" stroke="#111" stroke-width="1.00" />
<line x1="547.96" y1="480.79" x2="555.96" y2="480.79" stroke="#111" stroke-width="1.00" />
<circle cx="550.46" cy="481.14" r="1.2" fill="#fff" stroke="#111" stroke-width="1.25"/>
<circle cx="551.96" cy="476.73" r="1.2" fill="#fff" stroke="#111" stroke-width="1.25"/>
<circle cx="553.46" cy="479.38" r="1.2" fill="#fff" stroke="#111" stroke-width="1.25"/>
<text x="551.96" y="473.30" font-size="7.60" text-anchor="middle" font-weight="bold" fill="#111" >2.2</text>
<text transform="translate(554.46 526.90) rotate(-45)" x="0" y="0" font-size="7.00" text-anchor="end" font-weight="bold" fill="#111">Δ<tspan font-style="italic">dspII</tspan>(<tspan font-style="italic">rbdA</tspan>)</text>
<rect x="564.08" y="480.26" width="14.60" height="36.14" fill="#9ac6f6" stroke="#111" stroke-width="1.1"/>
<line x1="571.38" y1="516.40" x2="571.38" y2="520.60" stroke="#1e1e1e" stroke-width="1.10" />
<line x1="571.38" y1="479.02" x2="571.38" y2="481.49" stroke="#111" stroke-width="1.00" />
<line x1="567.38" y1="479.02" x2="575.38" y2="479.02" stroke="#111" stroke-width="1.00" />
<line x1="567.38" y1="481.49" x2="575.38" y2="481.49" stroke="#111" stroke-width="1.00" />
<circle cx="568.38" cy="481.14" r="1.2" fill="#fff" stroke="#111" stroke-width="1.25"/>
<circle cx="571.38" cy="478.50" r="1.2" fill="#fff" stroke="#111" stroke-width="1.25"/>
<circle cx="574.38" cy="480.26" r="1.2" fill="#fff" stroke="#111" stroke-width="1.25"/>
<text x="571.38" y="474.70" font-size="7.60" text-anchor="middle" font-weight="bold" fill="#111" >2.1</text>
<text transform="translate(573.88 526.90) rotate(-45)" x="0" y="0" font-size="7.00" text-anchor="end" font-weight="bold" fill="#111">Δ<tspan font-style="italic">dspI</tspan>(<tspan font-style="italic">rbdA</tspan>)</text>
<rect x="583.50" y="504.06" width="14.60" height="12.34" fill="#9ac6f6" stroke="#111" stroke-width="1.1"/>
<line x1="590.80" y1="516.40" x2="590.80" y2="520.60" stroke="#1e1e1e" stroke-width="1.10" />
<line x1="590.80" y1="503.18" x2="590.80" y2="504.94" stroke="#111" stroke-width="1.00" />
<line x1="586.80" y1="503.18" x2="594.80" y2="503.18" stroke="#111" stroke-width="1.00" />
<line x1="586.80" y1="504.94" x2="594.80" y2="504.94" stroke="#111" stroke-width="1.00" />
<circle cx="587.80" cy="504.94" r="1.2" fill="#fff" stroke="#111" stroke-width="1.25"/>
<circle cx="590.80" cy="502.65" r="1.2" fill="#fff" stroke="#111" stroke-width="1.25"/>
<circle cx="593.80" cy="504.06" r="1.2" fill="#fff" stroke="#111" stroke-width="1.25"/>
<text x="590.80" y="499.10" font-size="7.60" text-anchor="middle" font-weight="bold" fill="#111" >0.7</text>
<text transform="translate(593.30 526.90) rotate(-45)" x="0" y="0" font-size="7.00" text-anchor="end" font-weight="bold" fill="#111">Δ<tspan font-style="italic">fleQ</tspan>(EV)</text>
<rect x="602.92" y="503.18" width="14.60" height="13.22" fill="#9ac6f6" stroke="#111" stroke-width="1.1"/>
<line x1="610.22" y1="516.40" x2="610.22" y2="520.60" stroke="#1e1e1e" stroke-width="1.10" />
<line x1="610.22" y1="502.30" x2="610.22" y2="504.06" stroke="#111" stroke-width="1.00" />
<line x1="606.22" y1="502.30" x2="614.22" y2="502.30" stroke="#111" stroke-width="1.00" />
<line x1="606.22" y1="504.06" x2="614.22" y2="504.06" stroke="#111" stroke-width="1.00" />
<circle cx="607.22" cy="504.06" r="1.2" fill="#fff" stroke="#111" stroke-width="1.25"/>
<circle cx="610.22" cy="501.41" r="1.2" fill="#fff" stroke="#111" stroke-width="1.25"/>
<circle cx="613.22" cy="503.18" r="1.2" fill="#fff" stroke="#111" stroke-width="1.25"/>
<text x="610.22" y="499.10" font-size="7.60" text-anchor="middle" font-weight="bold" fill="#111" >0.8</text>
<text transform="translate(612.72 526.90) rotate(-45)" x="0" y="0" font-size="7.00" text-anchor="end" font-weight="bold" fill="#111">Δ<tspan font-style="italic">dspII</tspan>Δ<tspan font-style="italic">fleQ</tspan>(EV)</text>
<rect x="622.34" y="504.59" width="14.60" height="11.81" fill="#9ac6f6" stroke="#111" stroke-width="1.1"/>
<line x1="629.64" y1="516.40" x2="629.64" y2="520.60" stroke="#1e1e1e" stroke-width="1.10" />
<line x1="629.64" y1="504.06" x2="629.64" y2="505.12" stroke="#111" stroke-width="1.00" />
<line x1="625.64" y1="504.06" x2="633.64" y2="504.06" stroke="#111" stroke-width="1.00" />
<line x1="625.64" y1="505.12" x2="633.64" y2="505.12" stroke="#111" stroke-width="1.00" />
<circle cx="626.64" cy="504.94" r="1.2" fill="#fff" stroke="#111" stroke-width="1.25"/>
<circle cx="629.64" cy="504.06" r="1.2" fill="#fff" stroke="#111" stroke-width="1.25"/>
<circle cx="632.64" cy="504.59" r="1.2" fill="#fff" stroke="#111" stroke-width="1.25"/>
<text x="629.64" y="500.70" font-size="7.60" text-anchor="middle" font-weight="bold" fill="#111" >0.7</text>
<text transform="translate(632.14 526.90) rotate(-45)" x="0" y="0" font-size="7.00" text-anchor="end" font-weight="bold" fill="#111">Δ<tspan font-style="italic">dspI</tspan>Δ<tspan font-style="italic">fleQ</tspan>(EV)</text>
<rect x="641.76" y="504.94" width="14.60" height="11.46" fill="#9ac6f6" stroke="#111" stroke-width="1.1"/>
<line x1="649.06" y1="516.40" x2="649.06" y2="520.60" stroke="#1e1e1e" stroke-width="1.10" />
<line x1="649.06" y1="504.59" x2="649.06" y2="505.29" stroke="#111" stroke-width="1.00" />
<line x1="645.06" y1="504.59" x2="653.06" y2="504.59" stroke="#111" stroke-width="1.00" />
<line x1="645.06" y1="505.29" x2="653.06" y2="505.29" stroke="#111" stroke-width="1.00" />
<circle cx="646.06" cy="504.94" r="1.2" fill="#fff" stroke="#111" stroke-width="1.25"/>
<circle cx="649.06" cy="504.59" r="1.2" fill="#fff" stroke="#111" stroke-width="1.25"/>
<circle cx="652.06" cy="504.94" r="1.2" fill="#fff" stroke="#111" stroke-width="1.25"/>
<text x="649.06" y="501.70" font-size="7.60" text-anchor="middle" font-weight="bold" fill="#111" >0.6</text>
<text transform="translate(651.56 526.90) rotate(-45)" x="0" y="0" font-size="7.00" text-anchor="end" font-weight="bold" fill="#111">Δ<tspan font-style="italic">dspII</tspan>Δ<tspan font-style="italic">fleQ</tspan>(<tspan font-style="italic">rbdA</tspan>)</text>
<rect x="661.18" y="504.94" width="14.60" height="11.46" fill="#9ac6f6" stroke="#111" stroke-width="1.1"/>
<line x1="668.48" y1="516.40" x2="668.48" y2="520.60" stroke="#1e1e1e" stroke-width="1.10" />
<line x1="668.48" y1="504.41" x2="668.48" y2="505.47" stroke="#111" stroke-width="1.00" />
<line x1="664.48" y1="504.41" x2="672.48" y2="504.41" stroke="#111" stroke-width="1.00" />
<line x1="664.48" y1="505.47" x2="672.48" y2="505.47" stroke="#111" stroke-width="1.00" />
<circle cx="665.48" cy="505.47" r="1.2" fill="#fff" stroke="#111" stroke-width="1.25"/>
<circle cx="668.48" cy="504.06" r="1.2" fill="#fff" stroke="#111" stroke-width="1.25"/>
<circle cx="671.48" cy="504.76" r="1.2" fill="#fff" stroke="#111" stroke-width="1.25"/>
<text x="668.48" y="501.70" font-size="7.60" text-anchor="middle" font-weight="bold" fill="#111" >0.6</text>
<text transform="translate(670.98 526.90) rotate(-45)" x="0" y="0" font-size="7.00" text-anchor="end" font-weight="bold" fill="#111">Δ<tspan font-style="italic">dspI</tspan>Δ<tspan font-style="italic">fleQ</tspan>(<tspan font-style="italic">rbdA</tspan>)</text>
<line x1="493.00" y1="417.00" x2="533.60" y2="417.00" stroke="#1e1e1e" stroke-width="1.20" />
<text x="513.30" y="414.00" font-size="7.30" text-anchor="middle" font-weight="bold" fill="#111" ><tspan font-style="italic">p</tspan>&lt;0.0001</text>
<line x1="536.00" y1="417.00" x2="571.40" y2="417.00" stroke="#1e1e1e" stroke-width="1.20" />
<text x="553.70" y="414.00" font-size="7.30" text-anchor="middle" font-weight="bold" fill="#111" ><tspan font-style="italic">p</tspan>&lt;0.0001</text>
<line x1="493.00" y1="433.40" x2="513.00" y2="433.40" stroke="#1e1e1e" stroke-width="1.20" />
<text x="500.00" y="430.40" font-size="7.30" text-anchor="middle" font-weight="bold" fill="#111" ><tspan font-style="italic">p</tspan>&lt;0.0001</text>
<line x1="514.40" y1="433.40" x2="552.40" y2="433.40" stroke="#1e1e1e" stroke-width="1.20" />
<text x="533.40" y="430.40" font-size="7.30" text-anchor="middle" font-weight="bold" fill="#111" ><tspan font-style="italic">p</tspan>&lt;0.0001</text>
<line x1="588.60" y1="460.40" x2="629.00" y2="460.40" stroke="#1e1e1e" stroke-width="1.20" />
<text x="608.80" y="457.40" font-size="7.30" text-anchor="middle" font-weight="bold" fill="#111" ><tspan font-style="italic">p</tspan>&gt;0.9999</text>
<line x1="631.00" y1="460.40" x2="667.00" y2="460.40" stroke="#1e1e1e" stroke-width="1.20" />
<text x="649.00" y="457.40" font-size="7.30" text-anchor="middle" font-weight="bold" fill="#111" ><tspan font-style="italic">p</tspan>&gt;0.9999</text>
<line x1="588.60" y1="477.00" x2="608.00" y2="477.00" stroke="#1e1e1e" stroke-width="1.20" />
<text x="595.00" y="474.00" font-size="7.30" text-anchor="middle" font-weight="bold" fill="#111" ><tspan font-style="italic">p</tspan>&gt;0.9999</text>
<line x1="610.00" y1="477.00" x2="648.00" y2="477.00" stroke="#1e1e1e" stroke-width="1.20" />
<text x="629.00" y="474.00" font-size="7.30" text-anchor="middle" font-weight="bold" fill="#111" ><tspan font-style="italic">p</tspan>=0.9973</text>
<text transform="translate(465.00 464.00) rotate(-90)" x="0" y="0" font-size="8.50" text-anchor="middle" font-weight="bold" fill="#111" dominant-baseline="central">Biofilm production (A<tspan font-size="6.9" font-style="italic" dy="2">570</tspan><tspan dy="-2">/OD</tspan><tspan font-size="6.9" font-style="italic" dy="2">600</tspan><tspan dy="-2">)</tspan></text>
<line x1="482.00" y1="596.00" x2="482.00" y2="702.60" stroke="#1e1e1e" stroke-width="1.20" />
<line x1="481.40" y1="702.00" x2="682.40" y2="702.00" stroke="#1e1e1e" stroke-width="1.20" />
<line x1="478.20" y1="702.00" x2="482.00" y2="702.00" stroke="#1e1e1e" stroke-width="1.10" />
<text x="476.80" y="704.90" font-size="7.20" text-anchor="end" font-weight="bold" fill="#111" >0</text>
<line x1="478.20" y1="675.50" x2="482.00" y2="675.50" stroke="#1e1e1e" stroke-width="1.10" />
<text x="476.80" y="678.40" font-size="7.20" text-anchor="end" font-weight="bold" fill="#111" >2</text>
<line x1="478.20" y1="649.00" x2="482.00" y2="649.00" stroke="#1e1e1e" stroke-width="1.10" />
<text x="476.80" y="651.90" font-size="7.20" text-anchor="end" font-weight="bold" fill="#111" >4</text>
<line x1="478.20" y1="622.50" x2="482.00" y2="622.50" stroke="#1e1e1e" stroke-width="1.10" />
<text x="476.80" y="625.40" font-size="7.20" text-anchor="end" font-weight="bold" fill="#111" >6</text>
<line x1="478.20" y1="596.00" x2="482.00" y2="596.00" stroke="#1e1e1e" stroke-width="1.10" />
<text x="476.80" y="598.90" font-size="7.20" text-anchor="end" font-weight="bold" fill="#111" >8</text>
<rect x="486.40" y="625.02" width="14.60" height="76.98" fill="#9ac6f6" stroke="#111" stroke-width="1.1"/>
<line x1="493.70" y1="702.00" x2="493.70" y2="706.20" stroke="#1e1e1e" stroke-width="1.10" />
<line x1="493.70" y1="623.96" x2="493.70" y2="626.08" stroke="#111" stroke-width="1.00" />
<line x1="489.70" y1="623.96" x2="497.70" y2="623.96" stroke="#111" stroke-width="1.00" />
<line x1="489.70" y1="626.08" x2="497.70" y2="626.08" stroke="#111" stroke-width="1.00" />
<circle cx="490.70" cy="626.48" r="1.2" fill="#fff" stroke="#111" stroke-width="1.25"/>
<circle cx="493.70" cy="623.16" r="1.2" fill="#fff" stroke="#111" stroke-width="1.25"/>
<circle cx="496.70" cy="625.15" r="1.2" fill="#fff" stroke="#111" stroke-width="1.25"/>
<text x="493.70" y="620.10" font-size="7.60" text-anchor="middle" font-weight="bold" fill="#111" >5.8</text>
<text transform="translate(496.20 712.50) rotate(-45)" x="0" y="0" font-size="7.00" text-anchor="end" font-weight="bold" fill="#111">WT(EV))</text>
<rect x="505.82" y="682.65" width="14.60" height="19.35" fill="#9ac6f6" stroke="#111" stroke-width="1.1"/>
<line x1="513.12" y1="702.00" x2="513.12" y2="706.20" stroke="#1e1e1e" stroke-width="1.10" />
<line x1="513.12" y1="682.26" x2="513.12" y2="683.05" stroke="#111" stroke-width="1.00" />
<line x1="509.12" y1="682.26" x2="517.12" y2="682.26" stroke="#111" stroke-width="1.00" />
<line x1="509.12" y1="683.05" x2="517.12" y2="683.05" stroke="#111" stroke-width="1.00" />
<circle cx="510.12" cy="682.79" r="1.2" fill="#fff" stroke="#111" stroke-width="1.25"/>
<circle cx="513.12" cy="682.12" r="1.2" fill="#fff" stroke="#111" stroke-width="1.25"/>
<circle cx="516.12" cy="682.79" r="1.2" fill="#fff" stroke="#111" stroke-width="1.25"/>
<text x="513.12" y="679.70" font-size="7.60" text-anchor="middle" font-weight="bold" fill="#111" >1.5</text>
<text transform="translate(515.62 712.50) rotate(-45)" x="0" y="0" font-size="7.00" text-anchor="end" font-weight="bold" fill="#111">Δ<tspan font-style="italic">dspII</tspan>(EV)</text>
<rect x="525.24" y="682.65" width="14.60" height="19.35" fill="#9ac6f6" stroke="#111" stroke-width="1.1"/>
<line x1="532.54" y1="702.00" x2="532.54" y2="706.20" stroke="#1e1e1e" stroke-width="1.10" />
<line x1="532.54" y1="682.12" x2="532.54" y2="683.18" stroke="#111" stroke-width="1.00" />
<line x1="528.54" y1="682.12" x2="536.54" y2="682.12" stroke="#111" stroke-width="1.00" />
<line x1="528.54" y1="683.18" x2="536.54" y2="683.18" stroke="#111" stroke-width="1.00" />
<circle cx="529.54" cy="683.18" r="1.2" fill="#fff" stroke="#111" stroke-width="1.25"/>
<circle cx="532.54" cy="682.12" r="1.2" fill="#fff" stroke="#111" stroke-width="1.25"/>
<circle cx="535.54" cy="682.65" r="1.2" fill="#fff" stroke="#111" stroke-width="1.25"/>
<text x="532.54" y="679.70" font-size="7.60" text-anchor="middle" font-weight="bold" fill="#111" >1.5</text>
<text transform="translate(535.04 712.50) rotate(-45)" x="0" y="0" font-size="7.00" text-anchor="end" font-weight="bold" fill="#111">Δ<tspan font-style="italic">dspI</tspan>(EV)</text>
<rect x="544.66" y="648.34" width="14.60" height="53.66" fill="#9ac6f6" stroke="#111" stroke-width="1.1"/>
<line x1="551.96" y1="702.00" x2="551.96" y2="706.20" stroke="#1e1e1e" stroke-width="1.10" />
<line x1="551.96" y1="647.67" x2="551.96" y2="649.00" stroke="#111" stroke-width="1.00" />
<line x1="547.96" y1="647.67" x2="555.96" y2="647.67" stroke="#111" stroke-width="1.00" />
<line x1="547.96" y1="649.00" x2="555.96" y2="649.00" stroke="#111" stroke-width="1.00" />
<circle cx="548.96" cy="649.00" r="1.2" fill="#fff" stroke="#111" stroke-width="1.25"/>
<circle cx="551.96" cy="647.67" r="1.2" fill="#fff" stroke="#111" stroke-width="1.25"/>
<circle cx="554.96" cy="648.34" r="1.2" fill="#fff" stroke="#111" stroke-width="1.25"/>
<text x="551.96" y="644.70" font-size="7.60" text-anchor="middle" font-weight="bold" fill="#111" >4.1</text>
<text transform="translate(554.46 712.50) rotate(-45)" x="0" y="0" font-size="7.00" text-anchor="end" font-weight="bold" fill="#111">Δ<tspan font-style="italic">dspII</tspan>(<tspan font-style="italic">rbdA</tspan>)</text>
<rect x="564.08" y="641.45" width="14.60" height="60.55" fill="#9ac6f6" stroke="#111" stroke-width="1.1"/>
<line x1="571.38" y1="702.00" x2="571.38" y2="706.20" stroke="#1e1e1e" stroke-width="1.10" />
<line x1="571.38" y1="639.46" x2="571.38" y2="643.43" stroke="#111" stroke-width="1.00" />
<line x1="567.38" y1="639.46" x2="575.38" y2="639.46" stroke="#111" stroke-width="1.00" />
<line x1="567.38" y1="643.43" x2="575.38" y2="643.43" stroke="#111" stroke-width="1.00" />
<circle cx="569.88" cy="643.04" r="1.2" fill="#fff" stroke="#111" stroke-width="1.25"/>
<circle cx="571.38" cy="639.06" r="1.2" fill="#fff" stroke="#111" stroke-width="1.25"/>
<circle cx="572.88" cy="642.38" r="1.2" fill="#fff" stroke="#111" stroke-width="1.25"/>
<text x="571.38" y="636.70" font-size="7.60" text-anchor="middle" font-weight="bold" fill="#111" >4.6</text>
<text transform="translate(573.88 712.50) rotate(-45)" x="0" y="0" font-size="7.00" text-anchor="end" font-weight="bold" fill="#111">Δ<tspan font-style="italic">dspI</tspan>(<tspan font-style="italic">rbdA</tspan>)</text>
<rect x="583.50" y="681.46" width="14.60" height="20.54" fill="#9ac6f6" stroke="#111" stroke-width="1.1"/>
<line x1="590.80" y1="702.00" x2="590.80" y2="706.20" stroke="#1e1e1e" stroke-width="1.10" />
<line x1="590.80" y1="680.93" x2="590.80" y2="681.99" stroke="#111" stroke-width="1.00" />
<line x1="586.80" y1="680.93" x2="594.80" y2="680.93" stroke="#111" stroke-width="1.00" />
<line x1="586.80" y1="681.99" x2="594.80" y2="681.99" stroke="#111" stroke-width="1.00" />
<circle cx="587.80" cy="681.86" r="1.2" fill="#fff" stroke="#111" stroke-width="1.25"/>
<circle cx="590.80" cy="681.07" r="1.2" fill="#fff" stroke="#111" stroke-width="1.25"/>
<circle cx="593.80" cy="681.46" r="1.2" fill="#fff" stroke="#111" stroke-width="1.25"/>
<text x="590.80" y="678.10" font-size="7.60" text-anchor="middle" font-weight="bold" fill="#111" >1.6</text>
<text transform="translate(593.30 712.50) rotate(-45)" x="0" y="0" font-size="7.00" text-anchor="end" font-weight="bold" fill="#111">Δ<tspan font-style="italic">fleQ</tspan>(EV)</text>
<rect x="602.92" y="683.05" width="14.60" height="18.95" fill="#9ac6f6" stroke="#111" stroke-width="1.1"/>
<line x1="610.22" y1="702.00" x2="610.22" y2="706.20" stroke="#1e1e1e" stroke-width="1.10" />
<line x1="610.22" y1="682.65" x2="610.22" y2="683.45" stroke="#111" stroke-width="1.00" />
<line x1="606.22" y1="682.65" x2="614.22" y2="682.65" stroke="#111" stroke-width="1.00" />
<line x1="606.22" y1="683.45" x2="614.22" y2="683.45" stroke="#111" stroke-width="1.00" />
<circle cx="607.22" cy="683.45" r="1.2" fill="#fff" stroke="#111" stroke-width="1.25"/>
<circle cx="610.22" cy="682.52" r="1.2" fill="#fff" stroke="#111" stroke-width="1.25"/>
<circle cx="613.22" cy="683.05" r="1.2" fill="#fff" stroke="#111" stroke-width="1.25"/>
<text x="610.22" y="679.70" font-size="7.60" text-anchor="middle" font-weight="bold" fill="#111" >1.5</text>
<text transform="translate(612.72 712.50) rotate(-45)" x="0" y="0" font-size="7.00" text-anchor="end" font-weight="bold" fill="#111">Δ<tspan font-style="italic">dspII</tspan>Δ<tspan font-style="italic">fleQ</tspan>(EV)</text>
<rect x="622.34" y="683.45" width="14.60" height="18.55" fill="#9ac6f6" stroke="#111" stroke-width="1.1"/>
<line x1="629.64" y1="702.00" x2="629.64" y2="706.20" stroke="#1e1e1e" stroke-width="1.10" />
<line x1="629.64" y1="683.18" x2="629.64" y2="683.72" stroke="#111" stroke-width="1.00" />
<line x1="625.64" y1="683.18" x2="633.64" y2="683.18" stroke="#111" stroke-width="1.00" />
<line x1="625.64" y1="683.72" x2="633.64" y2="683.72" stroke="#111" stroke-width="1.00" />
<circle cx="626.64" cy="683.45" r="1.2" fill="#fff" stroke="#111" stroke-width="1.25"/>
<circle cx="629.64" cy="683.45" r="1.2" fill="#fff" stroke="#111" stroke-width="1.25"/>
<circle cx="632.64" cy="683.45" r="1.2" fill="#fff" stroke="#111" stroke-width="1.25"/>
<text x="629.64" y="680.70" font-size="7.60" text-anchor="middle" font-weight="bold" fill="#111" >1.4</text>
<text transform="translate(632.14 712.50) rotate(-45)" x="0" y="0" font-size="7.00" text-anchor="end" font-weight="bold" fill="#111">Δ<tspan font-style="italic">dspI</tspan>Δ<tspan font-style="italic">fleQ</tspan>(EV)</text>
<rect x="641.76" y="690.08" width="14.60" height="11.92" fill="#9ac6f6" stroke="#111" stroke-width="1.1"/>
<line x1="649.06" y1="702.00" x2="649.06" y2="706.20" stroke="#1e1e1e" stroke-width="1.10" />
<line x1="649.06" y1="689.41" x2="649.06" y2="690.74" stroke="#111" stroke-width="1.00" />
<line x1="645.06" y1="689.41" x2="653.06" y2="689.41" stroke="#111" stroke-width="1.00" />
<line x1="645.06" y1="690.74" x2="653.06" y2="690.74" stroke="#111" stroke-width="1.00" />
<circle cx="646.06" cy="690.47" r="1.2" fill="#fff" stroke="#111" stroke-width="1.25"/>
<circle cx="649.06" cy="689.41" r="1.2" fill="#fff" stroke="#111" stroke-width="1.25"/>
<circle cx="652.06" cy="690.08" r="1.2" fill="#fff" stroke="#111" stroke-width="1.25"/>
<text x="649.06" y="686.30" font-size="7.60" text-anchor="middle" font-weight="bold" fill="#111" >0.9</text>
<text transform="translate(651.56 712.50) rotate(-45)" x="0" y="0" font-size="7.00" text-anchor="end" font-weight="bold" fill="#111">Δ<tspan font-style="italic">dspII</tspan>Δ<tspan font-style="italic">fleQ</tspan>(<tspan font-style="italic">rbdA</tspan>)</text>
<rect x="661.18" y="689.01" width="14.60" height="12.99" fill="#9ac6f6" stroke="#111" stroke-width="1.1"/>
<line x1="668.48" y1="702.00" x2="668.48" y2="706.20" stroke="#1e1e1e" stroke-width="1.10" />
<line x1="668.48" y1="688.75" x2="668.48" y2="689.28" stroke="#111" stroke-width="1.00" />
<line x1="664.48" y1="688.75" x2="672.48" y2="688.75" stroke="#111" stroke-width="1.00" />
<line x1="664.48" y1="689.28" x2="672.48" y2="689.28" stroke="#111" stroke-width="1.00" />
<circle cx="665.48" cy="689.01" r="1.2" fill="#fff" stroke="#111" stroke-width="1.25"/>
<circle cx="668.48" cy="689.01" r="1.2" fill="#fff" stroke="#111" stroke-width="1.25"/>
<circle cx="671.48" cy="689.01" r="1.2" fill="#fff" stroke="#111" stroke-width="1.25"/>
<text x="668.48" y="686.30" font-size="7.60" text-anchor="middle" font-weight="bold" fill="#111" >1.0</text>
<text transform="translate(670.98 712.50) rotate(-45)" x="0" y="0" font-size="7.00" text-anchor="end" font-weight="bold" fill="#111">Δ<tspan font-style="italic">dspI</tspan>Δ<tspan font-style="italic">fleQ</tspan>(<tspan font-style="italic">rbdA</tspan>)</text>
<line x1="493.00" y1="599.40" x2="533.60" y2="599.40" stroke="#1e1e1e" stroke-width="1.20" />
<text x="513.30" y="596.30" font-size="7.30" text-anchor="middle" font-weight="bold" fill="#111" ><tspan font-style="italic">p</tspan>&lt;0.0001</text>
<line x1="536.00" y1="599.40" x2="571.40" y2="599.40" stroke="#1e1e1e" stroke-width="1.20" />
<text x="553.70" y="596.30" font-size="7.30" text-anchor="middle" font-weight="bold" fill="#111" ><tspan font-style="italic">p</tspan>&lt;0.0001</text>
<line x1="493.00" y1="612.00" x2="513.00" y2="612.00" stroke="#1e1e1e" stroke-width="1.20" />
<text x="500.00" y="608.90" font-size="7.30" text-anchor="middle" font-weight="bold" fill="#111" ><tspan font-style="italic">p</tspan>&lt;0.0001</text>
<line x1="514.40" y1="612.00" x2="552.40" y2="612.00" stroke="#1e1e1e" stroke-width="1.20" />
<text x="534.00" y="608.90" font-size="7.30" text-anchor="middle" font-weight="bold" fill="#111" ><tspan font-style="italic">p</tspan>&lt;0.0001</text>
<line x1="591.60" y1="649.00" x2="633.00" y2="649.00" stroke="#1e1e1e" stroke-width="1.20" />
<text x="612.30" y="645.90" font-size="7.30" text-anchor="middle" font-weight="bold" fill="#111" ><tspan font-style="italic">p</tspan>=0.5618</text>
<line x1="635.00" y1="649.00" x2="670.40" y2="649.00" stroke="#1e1e1e" stroke-width="1.20" />
<text x="652.70" y="645.90" font-size="7.30" text-anchor="middle" font-weight="bold" fill="#111" ><tspan font-style="italic">p</tspan>=0.0023</text>
<line x1="591.60" y1="662.00" x2="611.60" y2="662.00" stroke="#1e1e1e" stroke-width="1.20" />
<text x="601.60" y="658.90" font-size="7.30" text-anchor="middle" font-weight="bold" fill="#111" ><tspan font-style="italic">p</tspan>=0.9549</text>
<line x1="613.00" y1="662.00" x2="651.00" y2="662.00" stroke="#1e1e1e" stroke-width="1.20" />
<text x="634.00" y="658.90" font-size="7.30" text-anchor="middle" font-weight="bold" fill="#111" ><tspan font-style="italic">p</tspan>&lt;0.0001</text>
<text transform="translate(466.00 648.00) rotate(-90)" x="0" y="0" font-size="8.50" text-anchor="middle" font-weight="bold" fill="#111" dominant-baseline="central">Swarming motility (cm)</text>
<line x1="62.40" y1="218.60" x2="62.40" y2="329.60" stroke="#1e1e1e" stroke-width="1.20" />
<line x1="61.80" y1="329.00" x2="188.60" y2="329.00" stroke="#1e1e1e" stroke-width="1.20" />
<line x1="58.60" y1="329.00" x2="62.40" y2="329.00" stroke="#1e1e1e" stroke-width="1.10" />
<text x="57.20" y="331.90" font-size="7.20" text-anchor="end" font-weight="bold" fill="#111" >0</text>
<line x1="58.60" y1="301.40" x2="62.40" y2="301.40" stroke="#1e1e1e" stroke-width="1.10" />
<text x="57.20" y="304.30" font-size="7.20" text-anchor="end" font-weight="bold" fill="#111" >10000</text>
<line x1="58.60" y1="273.80" x2="62.40" y2="273.80" stroke="#1e1e1e" stroke-width="1.10" />
<text x="57.20" y="276.70" font-size="7.20" text-anchor="end" font-weight="bold" fill="#111" >20000</text>
<line x1="58.60" y1="246.20" x2="62.40" y2="246.20" stroke="#1e1e1e" stroke-width="1.10" />
<text x="57.20" y="249.10" font-size="7.20" text-anchor="end" font-weight="bold" fill="#111" >30000</text>
<line x1="58.60" y1="218.60" x2="62.40" y2="218.60" stroke="#1e1e1e" stroke-width="1.10" />
<text x="57.20" y="221.50" font-size="7.20" text-anchor="end" font-weight="bold" fill="#111" >40000</text>
<line x1="62.40" y1="329.00" x2="62.40" y2="333.00" stroke="#1e1e1e" stroke-width="1.10" />
<text x="62.40" y="340.20" font-size="7.20" text-anchor="middle" font-weight="bold" fill="#111" >4</text>
<line x1="87.50" y1="329.00" x2="87.50" y2="333.00" stroke="#1e1e1e" stroke-width="1.10" />
<text x="87.50" y="340.20" font-size="7.20" text-anchor="middle" font-weight="bold" fill="#111" >8</text>
<line x1="112.60" y1="329.00" x2="112.60" y2="333.00" stroke="#1e1e1e" stroke-width="1.10" />
<text x="112.60" y="340.20" font-size="7.20" text-anchor="middle" font-weight="bold" fill="#111" >12</text>
<line x1="137.70" y1="329.00" x2="137.70" y2="333.00" stroke="#1e1e1e" stroke-width="1.10" />
<text x="137.70" y="340.20" font-size="7.20" text-anchor="middle" font-weight="bold" fill="#111" >16</text>
<line x1="162.80" y1="329.00" x2="162.80" y2="333.00" stroke="#1e1e1e" stroke-width="1.10" />
<text x="162.80" y="340.20" font-size="7.20" text-anchor="middle" font-weight="bold" fill="#111" >20</text>
<line x1="187.90" y1="329.00" x2="187.90" y2="333.00" stroke="#1e1e1e" stroke-width="1.10" />
<text x="187.90" y="340.20" font-size="7.20" text-anchor="middle" font-weight="bold" fill="#111" >24</text>
<path d="M87.50 311.06 L112.60 285.94 L137.70 279.60 L162.80 267.45 L187.90 237.64" fill="none" stroke="#f0a04a" stroke-width="1.2" />
<circle cx="87.50" cy="311.06" r="2.30" fill="#f0a04a"/>
<circle cx="112.60" cy="285.94" r="2.30" fill="#f0a04a"/>
<circle cx="137.70" cy="279.60" r="2.30" fill="#f0a04a"/>
<circle cx="162.80" cy="267.45" r="2.30" fill="#f0a04a"/>
<circle cx="187.90" cy="237.64" r="2.30" fill="#f0a04a"/>
<path d="M87.50 315.20 L112.60 296.43 L137.70 293.67 L162.80 277.94 L187.90 266.07" fill="none" stroke="#5aa5f2" stroke-width="1.2" />
<rect x="85.20" y="312.90" width="4.60" height="4.60" fill="#5aa5f2"/>
<rect x="110.30" y="294.13" width="4.60" height="4.60" fill="#5aa5f2"/>
<rect x="135.40" y="291.37" width="4.60" height="4.60" fill="#5aa5f2"/>
<rect x="160.50" y="275.64" width="4.60" height="4.60" fill="#5aa5f2"/>
<rect x="185.60" y="263.77" width="4.60" height="4.60" fill="#5aa5f2"/>
<path d="M87.50 309.96 L112.60 297.54 L137.70 293.12 L162.80 278.77 L187.90 260.28" fill="none" stroke="#b052ee" stroke-width="1.2" />
<path d="M87.50 307.31 L90.03 311.80 L84.97 311.80 Z" fill="#b052ee"/>
<path d="M112.60 294.89 L115.13 299.38 L110.07 299.38 Z" fill="#b052ee"/>
<path d="M137.70 290.48 L140.23 294.96 L135.17 294.96 Z" fill="#b052ee"/>
<path d="M162.80 276.12 L165.33 280.61 L160.27 280.61 Z" fill="#b052ee"/>
<path d="M187.90 257.63 L190.43 262.12 L185.37 262.12 Z" fill="#b052ee"/>
<path d="M87.50 304.16 L112.60 276.56 L137.70 264.69 L162.80 252.55 L187.90 229.36" fill="none" stroke="#5aa5f2" stroke-width="1.2" stroke-dasharray="3 2"/>
<rect x="85.70" y="302.36" width="3.60" height="3.60" fill="none" stroke="#5aa5f2" stroke-width="1"/>
<rect x="110.80" y="274.76" width="3.60" height="3.60" fill="none" stroke="#5aa5f2" stroke-width="1"/>
<rect x="135.90" y="262.89" width="3.60" height="3.60" fill="none" stroke="#5aa5f2" stroke-width="1"/>
<rect x="161.00" y="250.75" width="3.60" height="3.60" fill="none" stroke="#5aa5f2" stroke-width="1"/>
<rect x="186.10" y="227.56" width="3.60" height="3.60" fill="none" stroke="#5aa5f2" stroke-width="1"/>
<line x1="187.90" y1="224.67" x2="187.90" y2="234.06" stroke="#5aa5f2" stroke-width="1.00" />
<line x1="185.40" y1="224.67" x2="190.40" y2="224.67" stroke="#5aa5f2" stroke-width="1.00" />
<line x1="185.40" y1="234.06" x2="190.40" y2="234.06" stroke="#5aa5f2" stroke-width="1.00" />
<path d="M87.50 302.50 L112.60 280.98 L137.70 265.52 L162.80 256.14 L187.90 238.47" fill="none" stroke="#b052ee" stroke-width="1.2" stroke-dasharray="3 2"/>
<path d="M87.50 300.20 L89.69 304.11 L85.31 304.11 Z" fill="none" stroke="#b052ee" stroke-width="1"/>
<path d="M112.60 278.68 L114.78 282.59 L110.41 282.59 Z" fill="none" stroke="#b052ee" stroke-width="1"/>
<path d="M137.70 263.22 L139.89 267.13 L135.52 267.13 Z" fill="none" stroke="#b052ee" stroke-width="1"/>
<path d="M162.80 253.84 L164.99 257.75 L160.62 257.75 Z" fill="none" stroke="#b052ee" stroke-width="1"/>
<path d="M187.90 236.17 L190.09 240.08 L185.72 240.08 Z" fill="none" stroke="#b052ee" stroke-width="1"/>
<line x1="68.80" y1="217.60" x2="80.80" y2="217.60" stroke="#f0a04a" stroke-width="1.20" />
<circle cx="74.80" cy="217.60" r="2.30" fill="#f0a04a"/>
<text x="86.90" y="220.10" font-size="7.10" text-anchor="start" font-weight="bold" fill="#111" >WT(EV)</text>
<line x1="68.80" y1="228.90" x2="80.80" y2="228.90" stroke="#5aa5f2" stroke-width="1.20" />
<rect x="72.50" y="226.60" width="4.60" height="4.60" fill="#5aa5f2"/>
<text x="86.90" y="231.40" font-size="7.10" text-anchor="start" font-weight="bold" fill="#111" >Δ<tspan font-style="italic">dspII</tspan>(EV)</text>
<line x1="68.80" y1="239.50" x2="80.80" y2="239.50" stroke="#b052ee" stroke-width="1.20" />
<path d="M74.80 236.85 L77.33 241.34 L72.27 241.34 Z" fill="#b052ee"/>
<text x="86.90" y="242.00" font-size="7.10" text-anchor="start" font-weight="bold" fill="#111" >Δ<tspan font-style="italic">dspI</tspan>(EV)</text>
<line x1="68.80" y1="250.50" x2="80.80" y2="250.50" stroke="#5aa5f2" stroke-width="1.20" stroke-dasharray="3 2"/>
<rect x="73.00" y="248.70" width="3.60" height="3.60" fill="none" stroke="#5aa5f2" stroke-width="1"/>
<text x="86.90" y="253.00" font-size="7.10" text-anchor="start" font-weight="bold" fill="#111" >Δ<tspan font-style="italic">dspII</tspan>(<tspan font-style="italic">dspII</tspan>)</text>
<line x1="68.80" y1="263.40" x2="80.80" y2="263.40" stroke="#b052ee" stroke-width="1.20" stroke-dasharray="3 2"/>
<path d="M74.80 261.10 L76.98 265.01 L72.61 265.01 Z" fill="none" stroke="#b052ee" stroke-width="1"/>
<text x="86.90" y="265.90" font-size="7.10" text-anchor="start" font-weight="bold" fill="#111" >Δ<tspan font-style="italic">dspI</tspan>(<tspan font-style="italic">dspI</tspan>)</text>
<text transform="translate(21.00 274.00) rotate(-90)" font-size="8.50" text-anchor="middle" font-weight="bold" fill="#111">Relative fluorescence</text>
<text transform="translate(31.00 274.00) rotate(-90)" font-size="8.50" text-anchor="middle" font-weight="bold" fill="#111">(P<tspan font-style="italic">rbdA-gfp</tspan>)</text>
<text x="125.00" y="352.00" font-size="8.50" text-anchor="middle" font-weight="bold" fill="#111" >Time (h)</text>
<line x1="72.20" y1="619.70" x2="72.20" y2="728.30" stroke="#1e1e1e" stroke-width="1.20" />
<line x1="71.60" y1="727.70" x2="205.00" y2="727.70" stroke="#1e1e1e" stroke-width="1.20" />
<line x1="68.40" y1="727.70" x2="72.20" y2="727.70" stroke="#1e1e1e" stroke-width="1.10" />
<text x="67.00" y="730.60" font-size="7.20" text-anchor="end" font-weight="bold" fill="#111" >0</text>
<line x1="68.40" y1="706.10" x2="72.20" y2="706.10" stroke="#1e1e1e" stroke-width="1.10" />
<text x="67.00" y="709.00" font-size="7.20" text-anchor="end" font-weight="bold" fill="#111" >20000</text>
<line x1="68.40" y1="684.50" x2="72.20" y2="684.50" stroke="#1e1e1e" stroke-width="1.10" />
<text x="67.00" y="687.40" font-size="7.20" text-anchor="end" font-weight="bold" fill="#111" >40000</text>
<line x1="68.40" y1="662.90" x2="72.20" y2="662.90" stroke="#1e1e1e" stroke-width="1.10" />
<text x="67.00" y="665.80" font-size="7.20" text-anchor="end" font-weight="bold" fill="#111" >60000</text>
<line x1="68.40" y1="641.30" x2="72.20" y2="641.30" stroke="#1e1e1e" stroke-width="1.10" />
<text x="67.00" y="644.20" font-size="7.20" text-anchor="end" font-weight="bold" fill="#111" >80000</text>
<line x1="68.40" y1="619.70" x2="72.20" y2="619.70" stroke="#1e1e1e" stroke-width="1.10" />
<text x="67.00" y="622.60" font-size="7.20" text-anchor="end" font-weight="bold" fill="#111" >100000</text>
<line x1="72.20" y1="727.70" x2="72.20" y2="731.70" stroke="#1e1e1e" stroke-width="1.10" />
<text x="72.20" y="738.90" font-size="7.20" text-anchor="middle" font-weight="bold" fill="#111" >8</text>
<line x1="91.20" y1="727.70" x2="91.20" y2="731.70" stroke="#1e1e1e" stroke-width="1.10" />
<text x="91.20" y="738.90" font-size="7.20" text-anchor="middle" font-weight="bold" fill="#111" >12</text>
<line x1="110.20" y1="727.70" x2="110.20" y2="731.70" stroke="#1e1e1e" stroke-width="1.10" />
<text x="110.20" y="738.90" font-size="7.20" text-anchor="middle" font-weight="bold" fill="#111" >16</text>
<line x1="129.20" y1="727.70" x2="129.20" y2="731.70" stroke="#1e1e1e" stroke-width="1.10" />
<text x="129.20" y="738.90" font-size="7.20" text-anchor="middle" font-weight="bold" fill="#111" >20</text>
<line x1="148.20" y1="727.70" x2="148.20" y2="731.70" stroke="#1e1e1e" stroke-width="1.10" />
<text x="148.20" y="738.90" font-size="7.20" text-anchor="middle" font-weight="bold" fill="#111" >24</text>
<line x1="167.20" y1="727.70" x2="167.20" y2="731.70" stroke="#1e1e1e" stroke-width="1.10" />
<text x="167.20" y="738.90" font-size="7.20" text-anchor="middle" font-weight="bold" fill="#111" >28</text>
<line x1="186.20" y1="727.70" x2="186.20" y2="731.70" stroke="#1e1e1e" stroke-width="1.10" />
<text x="186.20" y="738.90" font-size="7.20" text-anchor="middle" font-weight="bold" fill="#111" >32</text>
<line x1="205.20" y1="727.70" x2="205.20" y2="731.70" stroke="#1e1e1e" stroke-width="1.10" />
<text x="205.20" y="738.90" font-size="7.20" text-anchor="middle" font-weight="bold" fill="#111" >36</text>
<path d="M91.20 682.45 L110.20 671.11 L129.20 668.08 L148.20 660.52 L167.20 666.68 L186.20 658.15 L205.20 652.10" fill="none" stroke="#f0a04a" stroke-width="1.2" />
<circle cx="91.20" cy="682.45" r="2.30" fill="#f0a04a"/>
<circle cx="110.20" cy="671.11" r="2.30" fill="#f0a04a"/>
<circle cx="129.20" cy="668.08" r="2.30" fill="#f0a04a"/>
<circle cx="148.20" cy="660.52" r="2.30" fill="#f0a04a"/>
<circle cx="167.20" cy="666.68" r="2.30" fill="#f0a04a"/>
<circle cx="186.20" cy="658.15" r="2.30" fill="#f0a04a"/>
<circle cx="205.20" cy="652.10" r="2.30" fill="#f0a04a"/>
<path d="M91.20 690.12 L110.20 681.15 L129.20 676.08 L148.20 672.51 L167.20 671.11 L186.20 668.52 L205.20 664.74" fill="none" stroke="#b052ee" stroke-width="1.2" />
<path d="M91.20 687.47 L93.73 691.96 L88.67 691.96 Z" fill="#b052ee"/>
<path d="M110.20 678.51 L112.73 682.99 L107.67 682.99 Z" fill="#b052ee"/>
<path d="M129.20 673.43 L131.73 677.92 L126.67 677.92 Z" fill="#b052ee"/>
<path d="M148.20 669.87 L150.73 674.35 L145.67 674.35 Z" fill="#b052ee"/>
<path d="M167.20 668.46 L169.73 672.95 L164.67 672.95 Z" fill="#b052ee"/>
<path d="M186.20 665.87 L188.73 670.36 L183.67 670.36 Z" fill="#b052ee"/>
<path d="M205.20 662.09 L207.73 666.58 L202.67 666.58 Z" fill="#b052ee"/>
<path d="M91.20 719.17 L110.20 719.06 L129.20 719.06 L148.20 717.12 L167.20 715.82 L186.20 715.28 L205.20 712.58" fill="none" stroke="#b052ee" stroke-width="1.2" stroke-dasharray="3 2"/>
<path d="M91.20 716.87 L93.39 720.78 L89.02 720.78 Z" fill="none" stroke="#b052ee" stroke-width="1"/>
<path d="M110.20 716.76 L112.39 720.67 L108.02 720.67 Z" fill="none" stroke="#b052ee" stroke-width="1"/>
<path d="M129.20 716.76 L131.38 720.67 L127.01 720.67 Z" fill="none" stroke="#b052ee" stroke-width="1"/>
<path d="M148.20 714.82 L150.38 718.73 L146.01 718.73 Z" fill="none" stroke="#b052ee" stroke-width="1"/>
<path d="M167.20 713.52 L169.38 717.43 L165.01 717.43 Z" fill="none" stroke="#b052ee" stroke-width="1"/>
<path d="M186.20 712.98 L188.38 716.89 L184.01 716.89 Z" fill="none" stroke="#b052ee" stroke-width="1"/>
<path d="M205.20 710.28 L207.38 714.19 L203.01 714.19 Z" fill="none" stroke="#b052ee" stroke-width="1"/>
<path d="M91.20 717.66 L110.20 717.55 L129.20 717.12 L148.20 715.71 L167.20 715.60 L186.20 714.52 L205.20 712.15" fill="none" stroke="#f0a04a" stroke-width="1.2" stroke-dasharray="3 2"/>
<circle cx="91.20" cy="717.66" r="2.20" fill="none" stroke="#f0a04a" stroke-width="1"/>
<circle cx="110.20" cy="717.55" r="2.20" fill="none" stroke="#f0a04a" stroke-width="1"/>
<circle cx="129.20" cy="717.12" r="2.20" fill="none" stroke="#f0a04a" stroke-width="1"/>
<circle cx="148.20" cy="715.71" r="2.20" fill="none" stroke="#f0a04a" stroke-width="1"/>
<circle cx="167.20" cy="715.60" r="2.20" fill="none" stroke="#f0a04a" stroke-width="1"/>
<circle cx="186.20" cy="714.52" r="2.20" fill="none" stroke="#f0a04a" stroke-width="1"/>
<circle cx="205.20" cy="712.15" r="2.20" fill="none" stroke="#f0a04a" stroke-width="1"/>
<line x1="74.00" y1="613.60" x2="86.00" y2="613.60" stroke="#f0a04a" stroke-width="1.20" />
<circle cx="80.00" cy="613.60" r="2.30" fill="#f0a04a"/>
<text x="92.00" y="616.10" font-size="7.10" text-anchor="start" font-weight="bold" fill="#111" >WT</text>
<line x1="74.00" y1="625.40" x2="86.00" y2="625.40" stroke="#b052ee" stroke-width="1.20" />
<path d="M80.00 622.75 L82.53 627.24 L77.47 627.24 Z" fill="#b052ee"/>
<text x="92.00" y="627.90" font-size="7.10" text-anchor="start" font-weight="bold" fill="#111" >WT + 5 μM</text>
<line x1="141.00" y1="612.60" x2="153.00" y2="612.60" stroke="#f0a04a" stroke-width="1.20" stroke-dasharray="3 2"/>
<circle cx="147.00" cy="612.60" r="2.20" fill="none" stroke="#f0a04a" stroke-width="1"/>
<text x="159.00" y="615.10" font-size="7.10" text-anchor="start" font-weight="bold" fill="#111" >Δ<tspan font-style="italic">fleQ</tspan></text>
<line x1="141.00" y1="625.60" x2="153.00" y2="625.60" stroke="#b052ee" stroke-width="1.20" stroke-dasharray="3 2"/>
<path d="M147.00 623.30 L149.19 627.21 L144.81 627.21 Z" fill="none" stroke="#b052ee" stroke-width="1"/>
<text x="159.00" y="628.10" font-size="7.10" text-anchor="start" font-weight="bold" fill="#111" >Δ<tspan font-style="italic">fleQ</tspan> + 5 μM</text>
<text transform="translate(26.00 674.00) rotate(-90)" font-size="8.50" text-anchor="middle" font-weight="bold" fill="#111">Relative fluorescence</text>
<text transform="translate(36.00 674.00) rotate(-90)" font-size="8.50" text-anchor="middle" font-weight="bold" fill="#111">(P<tspan font-style="italic">pslA-gfp</tspan>)</text>
<text x="139.00" y="750.00" font-size="8.50" text-anchor="middle" font-weight="bold" fill="#111" >Time (h)</text>
<line x1="289.70" y1="620.60" x2="289.70" y2="729.60" stroke="#1e1e1e" stroke-width="1.20" />
<line x1="289.10" y1="729.00" x2="422.40" y2="729.00" stroke="#1e1e1e" stroke-width="1.20" />
<line x1="285.90" y1="729.00" x2="289.70" y2="729.00" stroke="#1e1e1e" stroke-width="1.10" />
<text x="284.50" y="731.90" font-size="7.20" text-anchor="end" font-weight="bold" fill="#111" >0</text>
<line x1="285.90" y1="707.32" x2="289.70" y2="707.32" stroke="#1e1e1e" stroke-width="1.10" />
<text x="284.50" y="710.22" font-size="7.20" text-anchor="end" font-weight="bold" fill="#111" >20000</text>
<line x1="285.90" y1="685.64" x2="289.70" y2="685.64" stroke="#1e1e1e" stroke-width="1.10" />
<text x="284.50" y="688.54" font-size="7.20" text-anchor="end" font-weight="bold" fill="#111" >40000</text>
<line x1="285.90" y1="663.96" x2="289.70" y2="663.96" stroke="#1e1e1e" stroke-width="1.10" />
<text x="284.50" y="666.86" font-size="7.20" text-anchor="end" font-weight="bold" fill="#111" >60000</text>
<line x1="285.90" y1="642.28" x2="289.70" y2="642.28" stroke="#1e1e1e" stroke-width="1.10" />
<text x="284.50" y="645.18" font-size="7.20" text-anchor="end" font-weight="bold" fill="#111" >80000</text>
<line x1="285.90" y1="620.60" x2="289.70" y2="620.60" stroke="#1e1e1e" stroke-width="1.10" />
<text x="284.50" y="623.50" font-size="7.20" text-anchor="end" font-weight="bold" fill="#111" >100000</text>
<line x1="289.70" y1="729.00" x2="289.70" y2="733.00" stroke="#1e1e1e" stroke-width="1.10" />
<text x="289.70" y="740.20" font-size="7.20" text-anchor="middle" font-weight="bold" fill="#111" >8</text>
<line x1="308.63" y1="729.00" x2="308.63" y2="733.00" stroke="#1e1e1e" stroke-width="1.10" />
<text x="308.63" y="740.20" font-size="7.20" text-anchor="middle" font-weight="bold" fill="#111" >12</text>
<line x1="327.56" y1="729.00" x2="327.56" y2="733.00" stroke="#1e1e1e" stroke-width="1.10" />
<text x="327.56" y="740.20" font-size="7.20" text-anchor="middle" font-weight="bold" fill="#111" >16</text>
<line x1="346.50" y1="729.00" x2="346.50" y2="733.00" stroke="#1e1e1e" stroke-width="1.10" />
<text x="346.50" y="740.20" font-size="7.20" text-anchor="middle" font-weight="bold" fill="#111" >20</text>
<line x1="365.43" y1="729.00" x2="365.43" y2="733.00" stroke="#1e1e1e" stroke-width="1.10" />
<text x="365.43" y="740.20" font-size="7.20" text-anchor="middle" font-weight="bold" fill="#111" >24</text>
<line x1="384.36" y1="729.00" x2="384.36" y2="733.00" stroke="#1e1e1e" stroke-width="1.10" />
<text x="384.36" y="740.20" font-size="7.20" text-anchor="middle" font-weight="bold" fill="#111" >28</text>
<line x1="403.29" y1="729.00" x2="403.29" y2="733.00" stroke="#1e1e1e" stroke-width="1.10" />
<text x="403.29" y="740.20" font-size="7.20" text-anchor="middle" font-weight="bold" fill="#111" >32</text>
<line x1="422.22" y1="729.00" x2="422.22" y2="733.00" stroke="#1e1e1e" stroke-width="1.10" />
<text x="422.22" y="740.20" font-size="7.20" text-anchor="middle" font-weight="bold" fill="#111" >36</text>
<path d="M308.63 696.59 L327.56 674.37 L346.50 665.04 L365.43 661.03 L384.36 668.62 L403.29 667.97 L422.22 666.34" fill="none" stroke="#f0a04a" stroke-width="1.2" />
<circle cx="308.63" cy="696.59" r="2.30" fill="#f0a04a"/>
<circle cx="327.56" cy="674.37" r="2.30" fill="#f0a04a"/>
<circle cx="346.50" cy="665.04" r="2.30" fill="#f0a04a"/>
<circle cx="365.43" cy="661.03" r="2.30" fill="#f0a04a"/>
<circle cx="384.36" cy="668.62" r="2.30" fill="#f0a04a"/>
<circle cx="403.29" cy="667.97" r="2.30" fill="#f0a04a"/>
<circle cx="422.22" cy="666.34" r="2.30" fill="#f0a04a"/>
<path d="M308.63 693.01 L327.56 672.96 L346.50 658.65 L365.43 648.57 L384.36 649.98 L403.29 650.95 L422.22 652.04" fill="none" stroke="#5aa5f2" stroke-width="1.2" />
<rect x="306.33" y="690.71" width="4.60" height="4.60" fill="#5aa5f2"/>
<rect x="325.26" y="670.66" width="4.60" height="4.60" fill="#5aa5f2"/>
<rect x="344.20" y="656.35" width="4.60" height="4.60" fill="#5aa5f2"/>
<rect x="363.13" y="646.27" width="4.60" height="4.60" fill="#5aa5f2"/>
<rect x="382.06" y="647.68" width="4.60" height="4.60" fill="#5aa5f2"/>
<rect x="400.99" y="648.65" width="4.60" height="4.60" fill="#5aa5f2"/>
<rect x="419.92" y="649.74" width="4.60" height="4.60" fill="#5aa5f2"/>
<path d="M308.63 694.96 L327.56 671.98 L346.50 653.55 L365.43 645.53 L384.36 648.57 L403.29 648.57 L422.22 648.57" fill="none" stroke="#b052ee" stroke-width="1.2" />
<path d="M308.63 692.32 L311.16 696.80 L306.10 696.80 Z" fill="#b052ee"/>
<path d="M327.56 669.34 L330.09 673.82 L325.03 673.82 Z" fill="#b052ee"/>
<path d="M346.50 650.91 L349.03 655.39 L343.97 655.39 Z" fill="#b052ee"/>
<path d="M365.43 642.89 L367.96 647.37 L362.90 647.37 Z" fill="#b052ee"/>
<path d="M384.36 645.92 L386.89 650.41 L381.83 650.41 Z" fill="#b052ee"/>
<path d="M403.29 645.92 L405.82 650.41 L400.76 650.41 Z" fill="#b052ee"/>
<path d="M422.22 645.92 L424.75 650.41 L419.69 650.41 Z" fill="#b052ee"/>
<line x1="346.50" y1="650.30" x2="346.50" y2="656.81" stroke="#b052ee" stroke-width="1.00" />
<line x1="344.00" y1="650.30" x2="349.00" y2="650.30" stroke="#b052ee" stroke-width="1.00" />
<line x1="344.00" y1="656.81" x2="349.00" y2="656.81" stroke="#b052ee" stroke-width="1.00" />
<path d="M308.63 725.64 L327.56 724.01 L346.50 720.98 L365.43 719.57 L384.36 722.50 L403.29 715.56 L422.22 710.46" fill="none" stroke="#f0a04a" stroke-width="1.2" stroke-dasharray="3 2"/>
<circle cx="308.63" cy="725.64" r="2.20" fill="none" stroke="#f0a04a" stroke-width="1"/>
<circle cx="327.56" cy="724.01" r="2.20" fill="none" stroke="#f0a04a" stroke-width="1"/>
<circle cx="346.50" cy="720.98" r="2.20" fill="none" stroke="#f0a04a" stroke-width="1"/>
<circle cx="365.43" cy="719.57" r="2.20" fill="none" stroke="#f0a04a" stroke-width="1"/>
<circle cx="384.36" cy="722.50" r="2.20" fill="none" stroke="#f0a04a" stroke-width="1"/>
<circle cx="403.29" cy="715.56" r="2.20" fill="none" stroke="#f0a04a" stroke-width="1"/>
<circle cx="422.22" cy="710.46" r="2.20" fill="none" stroke="#f0a04a" stroke-width="1"/>
<path d="M308.63 720.98 L327.56 723.69 L346.50 719.03 L365.43 716.64 L384.36 721.95 L403.29 715.45 L422.22 715.56" fill="none" stroke="#5aa5f2" stroke-width="1.2" stroke-dasharray="3 2"/>
<rect x="306.83" y="719.18" width="3.60" height="3.60" fill="none" stroke="#5aa5f2" stroke-width="1"/>
<rect x="325.76" y="721.89" width="3.60" height="3.60" fill="none" stroke="#5aa5f2" stroke-width="1"/>
<rect x="344.70" y="717.23" width="3.60" height="3.60" fill="none" stroke="#5aa5f2" stroke-width="1"/>
<rect x="363.63" y="714.84" width="3.60" height="3.60" fill="none" stroke="#5aa5f2" stroke-width="1"/>
<rect x="382.56" y="720.15" width="3.60" height="3.60" fill="none" stroke="#5aa5f2" stroke-width="1"/>
<rect x="401.49" y="713.65" width="3.60" height="3.60" fill="none" stroke="#5aa5f2" stroke-width="1"/>
<rect x="420.42" y="713.76" width="3.60" height="3.60" fill="none" stroke="#5aa5f2" stroke-width="1"/>
<path d="M308.63 723.36 L327.56 723.04 L346.50 718.38 L365.43 715.99 L384.36 722.50 L403.29 715.78 L422.22 716.53" fill="none" stroke="#b052ee" stroke-width="1.2" stroke-dasharray="3 2"/>
<path d="M308.63 721.06 L310.82 724.97 L306.45 724.97 Z" fill="none" stroke="#b052ee" stroke-width="1"/>
<path d="M327.56 720.74 L329.75 724.65 L325.38 724.65 Z" fill="none" stroke="#b052ee" stroke-width="1"/>
<path d="M346.50 716.08 L348.68 719.99 L344.31 719.99 Z" fill="none" stroke="#b052ee" stroke-width="1"/>
<path d="M365.43 713.69 L367.61 717.60 L363.24 717.60 Z" fill="none" stroke="#b052ee" stroke-width="1"/>
<path d="M384.36 720.20 L386.55 724.11 L382.18 724.11 Z" fill="none" stroke="#b052ee" stroke-width="1"/>
<path d="M403.29 713.48 L405.48 717.39 L401.11 717.39 Z" fill="none" stroke="#b052ee" stroke-width="1"/>
<path d="M422.22 714.23 L424.41 718.14 L420.04 718.14 Z" fill="none" stroke="#b052ee" stroke-width="1"/>
<line x1="297.00" y1="614.60" x2="309.00" y2="614.60" stroke="#f0a04a" stroke-width="1.20" />
<circle cx="303.00" cy="614.60" r="2.30" fill="#f0a04a"/>
<text x="314.00" y="617.10" font-size="7.10" text-anchor="start" font-weight="bold" fill="#111" >WT</text>
<line x1="297.00" y1="625.00" x2="309.00" y2="625.00" stroke="#5aa5f2" stroke-width="1.20" />
<rect x="300.70" y="622.70" width="4.60" height="4.60" fill="#5aa5f2"/>
<text x="314.00" y="627.50" font-size="7.10" text-anchor="start" font-weight="bold" fill="#111" >Δ<tspan font-style="italic">dspII</tspan></text>
<line x1="297.00" y1="636.00" x2="309.00" y2="636.00" stroke="#b052ee" stroke-width="1.20" />
<path d="M303.00 633.36 L305.53 637.84 L300.47 637.84 Z" fill="#b052ee"/>
<text x="314.00" y="638.50" font-size="7.10" text-anchor="start" font-weight="bold" fill="#111" >Δ<tspan font-style="italic">dspI</tspan></text>
<line x1="349.60" y1="614.00" x2="361.60" y2="614.00" stroke="#f0a04a" stroke-width="1.20" stroke-dasharray="3 2"/>
<circle cx="355.60" cy="614.00" r="2.20" fill="none" stroke="#f0a04a" stroke-width="1"/>
<text x="368.00" y="616.50" font-size="7.10" text-anchor="start" font-weight="bold" fill="#111" >Δ<tspan font-style="italic">fleQ</tspan></text>
<line x1="349.60" y1="625.00" x2="361.60" y2="625.00" stroke="#5aa5f2" stroke-width="1.20" stroke-dasharray="3 2"/>
<rect x="353.80" y="623.20" width="3.60" height="3.60" fill="none" stroke="#5aa5f2" stroke-width="1"/>
<text x="368.00" y="627.50" font-size="7.10" text-anchor="start" font-weight="bold" fill="#111" >Δ<tspan font-style="italic">dspII</tspan>Δ<tspan font-style="italic">fleQ</tspan></text>
<line x1="349.60" y1="636.60" x2="361.60" y2="636.60" stroke="#b052ee" stroke-width="1.20" stroke-dasharray="3 2"/>
<path d="M355.60 634.30 L357.79 638.21 L353.42 638.21 Z" fill="none" stroke="#b052ee" stroke-width="1"/>
<text x="368.00" y="639.10" font-size="7.10" text-anchor="start" font-weight="bold" fill="#111" >Δ<tspan font-style="italic">dspI</tspan>Δ<tspan font-style="italic">fleQ</tspan></text>
<text transform="translate(245.00 675.00) rotate(-90)" font-size="8.50" text-anchor="middle" font-weight="bold" fill="#111">Relative fluorescence</text>
<text transform="translate(255.00 675.00) rotate(-90)" font-size="8.50" text-anchor="middle" font-weight="bold" fill="#111">(P<tspan font-style="italic">pslA-gfp</tspan>)</text>
<text x="356.00" y="751.50" font-size="8.50" text-anchor="middle" font-weight="bold" fill="#111" >Time (h)</text>
<text x="1.27" y="12.50" font-size="16.00" font-weight="bold" fill="#000">A</text>
<text x="193.40" y="12.60" font-size="16.00" font-weight="bold" fill="#000">B</text>
<text x="365.90" y="12.60" font-size="16.00" font-weight="bold" fill="#000">C</text>
<text x="529.70" y="12.60" font-size="16.00" font-weight="bold" fill="#000">D</text>
<text x="1.70" y="203.80" font-size="16.00" font-weight="bold" fill="#000">E</text>
<text x="206.40" y="203.80" font-size="16.00" font-weight="bold" fill="#000">F</text>
<text x="370.00" y="203.80" font-size="16.00" font-weight="bold" fill="#000">G</text>
<text x="534.90" y="203.80" font-size="16.00" font-weight="bold" fill="#000">H</text>
<text x="1.40" y="398.50" font-size="16.00" font-weight="bold" fill="#000">I</text>
<text x="114.10" y="398.50" font-size="16.00" font-weight="bold" fill="#000">J</text>
<text x="282.60" y="398.50" font-size="16.00" font-weight="bold" fill="#000">K</text>
<text x="441.40" y="398.50" font-size="16.00" font-weight="bold" fill="#000">N</text>
<text x="1.70" y="598.80" font-size="16.00" font-weight="bold" fill="#000">L</text>
<text x="222.00" y="599.10" font-size="16.00" font-weight="bold" fill="#000">M</text>
<text x="440.90" y="599.00" font-size="16.00" font-weight="bold" fill="#000">O</text>
<line x1="15.3" y1="401.4" x2="99.2" y2="401.4" stroke="#3d8b2f" stroke-width="2.5"/>
<line x1="15.3" y1="427.3" x2="99.2" y2="427.3" stroke="#3d8b2f" stroke-width="2.5"/>
<text x="16" y="410.9" font-size="6.6" font-weight="bold" fill="#3d8b2f">OM</text>
<text x="16" y="424" font-size="6.6" font-weight="bold" fill="#3d8b2f">IM</text>
<path d="M34.4 446.4 C39 441, 43.5 437, 43.5 432.5 C43.5 428, 40 427, 40.2 423 C40.4 417, 45 411, 51.9 407.7 C56 405.8, 66 405.5, 70.5 409 C72.5 411, 70.5 416, 68.5 420 C67 423, 67 427, 67.6 432" fill="none" stroke="#a3a3a3" stroke-width="1.15"/>
<g transform="translate(70.3 442.4) rotate(-6)"><rect x="-7.2" y="-10.6" width="14.4" height="21.2" rx="2.2" fill="#a28ed4" stroke="#8b74c4" stroke-width="0.9"/><text transform="rotate(-90)" x="0" y="2.5" font-size="7.0" font-weight="bold" text-anchor="middle" fill="#fff">PAS</text></g>
<path d="M71.5 453.8 L72 457" stroke="#a3a3a3" stroke-width="1.15"/>
<path d="M63.4 459.7 L80.5 456.5 L77.3 479.1 Z" fill="#e4ddf3" stroke="#bba9df" stroke-width="0.9"/>
<text transform="translate(75.4 467.3) rotate(-90)" x="0" y="2.5" font-size="7.0" font-weight="bold" text-anchor="middle" fill="#111">PAC</text>
<path d="M77.3 479 C77.5 482, 76 483.5, 70 484.4 C67 484.8, 65.5 485.5, 64.5 486.5" fill="none" stroke="#a3a3a3" stroke-width="1.15"/>
<g transform="translate(53.8 494.9) rotate(-37.2)"><path d="M-14.85 0 L-8.95 -6.25 L14.85 -6.25 L14.85 6.25 L-8.95 6.25 Z" fill="#b84a52" stroke="#8d2e36" stroke-width="0.9"/><text x="1.4" y="2.3" font-size="7.1" font-weight="bold" text-anchor="middle" fill="#fff">GGDEF</text></g>
<path d="M42.3 504.8 C41.5 508, 43 511, 46 513 C47.5 514, 48.5 514.3, 50.3 514.5" fill="none" stroke="#a3a3a3" stroke-width="1.15"/>
<g transform="translate(63.17 521.5) rotate(28.85)"><path d="M-14.7 0 L-8.3 -5.8 L14.7 -5.8 L14.7 5.8 L-8.3 5.8 Z" fill="#eab5b9" stroke="#c96d73" stroke-width="0.9"/><text x="1.4" y="3.2" font-size="7.1" font-weight="bold" font-style="italic" text-anchor="middle" fill="#111">EAL</text></g>
<path d="M77 528.4 L83.6 533.2" stroke="#a3a3a3" stroke-width="1.15"/>
<text x="21.5" y="533.3" font-size="8.6" font-weight="bold" fill="#111">RbdA</text>
<circle cx="35.7" cy="550.6" r="2.7" fill="#e46f35"/>
<text x="17" y="562.3" font-size="8.4" fill="#e0652e">c-di-GMP</text>
<path d="M41.3 547.6 C48 539, 62 533, 83 541.5" fill="none" stroke="#e46f35" stroke-width="1.2"/>
<path d="M85.5 542.6 L80.2 537.8 L79.3 543.6 Z" fill="#e46f35"/>
<circle cx="99.4" cy="540.2" r="2.6" fill="#f2c3a3"/>
<circle cx="91.1" cy="545.8" r="2.6" fill="#f2c3a3"/>
<circle cx="96.2" cy="553.0" r="2.6" fill="#f2c3a3"/>
<text x="63.3" y="567.6" font-size="8.4" fill="#e8865a">pGpG/GMP</text>
</svg></body></html>
